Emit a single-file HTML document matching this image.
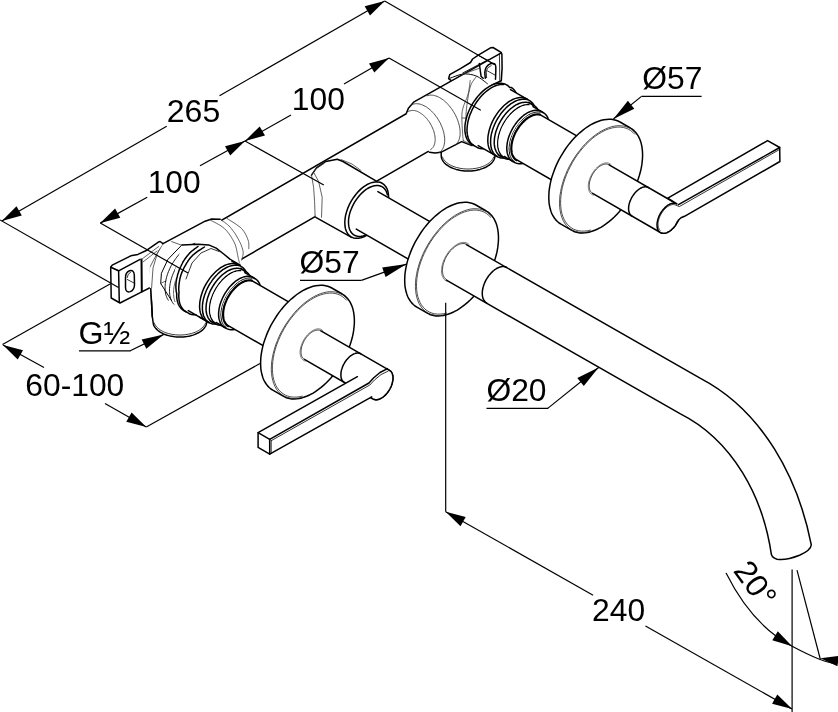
<!DOCTYPE html>
<html><head><meta charset="utf-8"><title>drawing</title>
<style>html,body{margin:0;padding:0;background:#fff}svg{display:block;will-change:transform}text{font-family:"Liberation Sans",sans-serif;fill:#000}</style>
</head><body>
<svg width="838" height="712" viewBox="0 0 838 712">
<rect width="838" height="712" fill="#fff"/>
<path d="M448.6 78.7 L449.7 74.7 L460 68.8 L470.5 62.5 L472.6 59 L478.3 55.1 L490.9 47.7 L493 47.5 L501.1 52.3 L501.9 54.2 L502.1 68.1 L501.3 80.7 L470 95 Z" fill="#fff" stroke="#000" stroke-width="1.5" stroke-linejoin="round" stroke-linecap="round" />
<path d="M162.3 254.5 L161.7 255 L161 255.5 L160.4 256.1 L159.9 256.8 L159.4 257.5 L159 258.4 L158.6 259.3 L158.4 260.2 L158.1 261.2 L158 262.3 L157.9 263.4 L157.8 264.5 L157.9 265.7 L158 266.9 L158.1 268.1 L158.4 269.4 L158.6 270.7 L159 272 L159.4 273.3 L159.9 274.6 L160.4 275.9 L161 277.2 L161.7 278.4 L162.3 279.7 L163.1 280.9 L163.9 282.1 L164.7 283.3 L165.5 284.4 L166.4 285.4 L167.3 286.4 L168.3 287.4 L169.3 288.3 L170.2 289.1 L171.2 289.9 L172.2 290.6 L173.2 291.2 L174.3 291.7 L175.3 292.2 L176.3 292.6 L177.2 292.9 L178.2 293.1 L179.1 293.3 L180.1 293.3 L181 293.3 L181.8 293.1 L182.6 292.9 L183.4 292.7 L184.1 292.3 L487.3 117.3 L487.9 116.8 L488.6 116.3 L489.2 115.7 L489.7 115 L490.2 114.3 L490.6 113.4 L491 112.5 L491.2 111.6 L491.5 110.6 L491.6 109.5 L491.7 108.4 L491.8 107.3 L491.7 106.1 L491.6 104.9 L491.5 103.7 L491.2 102.4 L491 101.1 L490.6 99.8 L490.2 98.5 L489.7 97.2 L489.2 95.9 L488.6 94.6 L487.9 93.4 L487.3 92.1 L486.5 90.9 L485.7 89.7 L484.9 88.5 L484.1 87.4 L483.2 86.4 L482.3 85.4 L481.3 84.4 L480.3 83.5 L479.4 82.7 L478.4 81.9 L477.4 81.2 L476.4 80.6 L475.3 80.1 L474.3 79.6 L473.3 79.2 L472.4 78.9 L471.4 78.7 L470.5 78.5 L469.5 78.5 L468.6 78.5 L467.8 78.7 L467 78.9 L466.2 79.1 L465.5 79.5 Z" fill="#fff" stroke="#000" stroke-width="1.5" stroke-linejoin="round" stroke-linecap="round" />
<path d="M441.2 125.5 L441.2 155.5 L441.3 156.5 L441.4 157.5 L441.7 158.5 L442.1 159.5 L442.6 160.5 L443.2 161.4 L444 162.4 L444.8 163.3 L445.7 164.1 L446.8 165 L447.9 165.7 L449.1 166.5 L450.4 167.2 L451.7 167.8 L453.2 168.4 L454.6 168.9 L456.2 169.4 L457.8 169.8 L459.5 170.2 L461.1 170.5 L462.9 170.7 L464.6 170.9 L466.3 171 L468.1 171 L469.9 171 L471.6 170.9 L473.3 170.7 L475.1 170.5 L476.7 170.2 L478.4 169.8 L480 169.4 L481.5 168.9 L483 168.4 L484.5 167.8 L485.8 167.2 L487.1 166.5 L488.3 165.7 L489.4 165 L490.5 164.1 L491.4 163.3 L492.2 162.4 L493 161.4 L493.6 160.5 L494.1 159.5 L494.5 158.5 L494.8 157.5 L494.9 156.5 L495 155.5 L495 125.5" fill="#fff" stroke="#000" stroke-width="1.5" stroke-linejoin="round" stroke-linecap="round" />
<path d="M442.5 157 L442.8 157.9 L443.3 158.7 L443.8 159.5 L444.4 160.3 L445 161.1 L445.8 161.8 L446.6 162.5 L447.5 163.2 L448.4 163.9 L449.4 164.5 L450.5 165.1 L451.6 165.7 L452.8 166.2 L454 166.7 L455.3 167.1 L456.6 167.5 L458 167.8 L459.4 168.2 L460.8 168.4 L462.2 168.6 L463.7 168.8 L465.1 168.9 L466.6 169 L468.1 169 L469.6 169 L471.1 168.9 L472.5 168.8 L474 168.6 L475.4 168.4 L476.8 168.2 L478.2 167.8 L479.6 167.5 L480.9 167.1 L482.2 166.7 L483.4 166.2 L484.6 165.7 L485.7 165.1 L486.8 164.5 L487.8 163.9 L488.7 163.2 L489.6 162.5 L490.4 161.8 L491.2 161.1 L491.8 160.3 L492.4 159.5 L492.9 158.7 L493.4 157.9 L493.7 157" fill="none" stroke="#000" stroke-width="0.8" stroke-linejoin="round" stroke-linecap="round" />
<path d="M150.8 288.7 L152.3 316.6 L153.3 323.7 L153.5 324.6 L153.9 325.6 L154.4 326.5 L155 327.4 L155.7 328.3 L156.5 329.1 L157.4 330 L158.3 330.8 L159.4 331.5 L160.5 332.3 L161.7 332.9 L163 333.6 L164.3 334.2 L165.7 334.7 L167.2 335.2 L168.7 335.6 L170.2 336 L171.8 336.3 L173.4 336.6 L175.1 336.8 L176.7 336.9 L178.4 337 L180.1 337 L181.8 337 L183.4 336.9 L185.1 336.7 L186.7 336.5 L188.4 336.2 L189.9 335.9 L191.5 335.5 L193 335.1 L194.4 334.6 L195.8 334 L197.1 333.4 L198.4 332.8 L199.6 332.1 L200.7 331.4 L201.7 330.6 L202.7 329.8 L203.5 329 L204.3 328.1 L204.9 327.2 L205.5 326.3 L206 325.3 L206.3 324.4 L206.6 323.4 L206.7 322.5 L206.8 321.5 L206.8 291.5" fill="#fff" stroke="#000" stroke-width="1.5" stroke-linejoin="round" stroke-linecap="round" />
<path d="M154.3 323 L154.6 323.9 L155.1 324.7 L155.6 325.5 L156.2 326.3 L156.8 327.1 L157.6 327.8 L158.4 328.5 L159.3 329.2 L160.2 329.9 L161.2 330.5 L162.3 331.1 L163.4 331.7 L164.6 332.2 L165.8 332.7 L167.1 333.1 L168.4 333.5 L169.8 333.8 L171.2 334.2 L172.6 334.4 L174 334.6 L175.5 334.8 L176.9 334.9 L178.4 335 L179.9 335 L181.4 335 L182.9 334.9 L184.3 334.8 L185.8 334.6 L187.2 334.4 L188.6 334.2 L190 333.8 L191.4 333.5 L192.7 333.1 L194 332.7 L195.2 332.2 L196.4 331.7 L197.5 331.1 L198.6 330.5 L199.6 329.9 L200.5 329.2 L201.4 328.5 L202.2 327.8 L203 327.1 L203.6 326.3 L204.2 325.5 L204.7 324.7 L205.2 323.9 L205.5 323" fill="none" stroke="#000" stroke-width="0.8" stroke-linejoin="round" stroke-linecap="round" />
<path d="M406.5 112.9 L408.6 107.9 L413.6 102.2 L480 64 L505 110 L495.2 155.2 L480.9 148.7 L461.6 141.6 L440.8 152.3 L435.1 153 L429.4 152.3 Z" fill="#fff" stroke="none" stroke-width="0" stroke-linejoin="round" stroke-linecap="round" />
<path d="M406.5 112.9 L408.6 107.9 L413.6 102.2 L501.3 52.9" fill="none" stroke="#000" stroke-width="1.5" stroke-linejoin="round" stroke-linecap="round" />
<path d="M429.4 152.3 L435.1 153 L440.8 152.3 L461.6 141.6 L472 145.6" fill="none" stroke="#000" stroke-width="1.5" stroke-linejoin="round" stroke-linecap="round" />
<path d="M430.6 149.6 L431.3 149.1 L431.9 148.6 L432.5 147.9 L433.1 147.3 L433.6 146.5 L434 145.7 L434.3 144.8 L434.6 143.8 L434.9 142.8 L435 141.7 L435.1 140.6 L435.2 139.5 L435.1 138.3 L435 137.1 L434.9 135.8 L434.6 134.5 L434.3 133.2 L434 131.9 L433.6 130.6 L433.1 129.3 L432.5 128 L431.9 126.7 L431.3 125.4 L430.6 124.1 L429.9 122.9 L429.1 121.7 L428.2 120.6 L427.4 119.4 L426.5 118.4 L425.6 117.3 L424.6 116.4 L423.6 115.5 L422.6 114.6 L421.6 113.9 L420.6 113.2 L419.6 112.5 L418.6 112 L417.6 111.5 L416.6 111.1 L415.6 110.8 L414.6 110.6 L413.6 110.5 L412.7 110.4 L411.8 110.5 L411 110.6 L410.1 110.8 L409.3 111.1 L408.6 111.4" fill="none" stroke="#3a3a3a" stroke-width="0.9" stroke-linejoin="round" stroke-linecap="round" />
<path d="M439 152.6 L439.9 152 L440.7 151.4 L441.4 150.6 L442.1 149.7 L442.7 148.8 L443.2 147.8 L443.7 146.6 L444 145.5 L444.3 144.2 L444.5 142.9 L444.7 141.5 L444.7 140 L444.7 138.5 L444.5 137 L444.3 135.4 L444 133.8 L443.7 132.2 L443.2 130.6 L442.7 128.9 L442.1 127.3 L441.4 125.7 L440.7 124 L439.9 122.4 L439 120.9 L438.1 119.3 L437.1 117.8 L436.1 116.4 L435 115 L433.9 113.6 L432.7 112.4 L431.5 111.1 L430.3 110 L429 109 L427.8 108 L426.5 107.1 L425.2 106.3 L424 105.7 L422.7 105.1 L421.5 104.6 L420.2 104.2 L419 103.9 L417.8 103.8 L416.6 103.7 L415.5 103.7 L414.4 103.9 L413.4 104.2 L412.4 104.5 L411.5 105" fill="none" stroke="#3a3a3a" stroke-width="0.9" stroke-linejoin="round" stroke-linecap="round" />
<path d="M455.4 145 L456.2 144.3 L456.9 143.5 L457.6 142.7 L458.1 141.7 L458.6 140.7 L459.1 139.6 L459.4 138.4 L459.7 137.2 L460 135.9 L460.1 134.6 L460.1 133.2 L460.1 131.7 L460 130.2 L459.9 128.7 L459.6 127.1 L459.3 125.6 L458.9 124 L458.4 122.4 L457.9 120.8 L457.3 119.2 L456.6 117.6 L455.9 116 L455.1 114.4 L454.2 112.9 L453.3 111.4 L452.4 109.9 L451.4 108.5 L450.3 107.1 L449.2 105.8 L448.1 104.5 L447 103.3 L445.8 102.1 L444.6 101.1 L443.4 100.1 L442.1 99.2 L440.9 98.4 L439.6 97.6 L438.4 97 L437.2 96.4 L435.9 96 L434.7 95.6 L433.5 95.3 L432.4 95.2 L431.2 95.1 L430.1 95.1 L429 95.2 L428 95.5 L427 95.8" fill="none" stroke="#3a3a3a" stroke-width="0.9" stroke-linejoin="round" stroke-linecap="round" />
<path d="M449.8 78.3 L450.9 77.9 L452.3 77.4 L454 76.7 L455.9 76 L457.9 75.3 L460 74.7 L461.9 74.3 L463.7 74 L465.4 73.9 L467 74 L468.7 74.1 L470.3 74.4 L472 74.7 L473.5 75.1 L475.1 75.6 L476.6 76.2 L478.1 76.9 L479.7 77.9 L481.3 79 L482.8 80.1 L484.2 81.2 L485.5 82.2 L486.6 83.1 L487.4 83.7" fill="none" stroke="#000" stroke-width="1" stroke-linejoin="round" stroke-linecap="round" />
<path d="M470.2 80.5 L470.1 81.5 L469.9 82.9 L469.7 84.5 L469.5 86.4 L469.2 88.3 L468.9 90.4 L468.5 92.4 L468 94.4 L467.4 96.4 L466.7 98.4 L465.8 100.4 L464.9 102.5 L464.1 104.7 L463.3 106.9 L462.7 109.2 L462.2 111.6 L461.9 114.2 L461.9 117 L461.9 119.9 L462 122.9 L462.1 125.8 L462.3 128.6 L462.5 131 L462.6 133.1 L462.7 134.8 L462.8 136.2 L462.9 137.4 L463.1 138.4 L463.2 139.2 L463.3 139.9 L463.4 140.5 L463.5 141" fill="none" stroke="#3a3a3a" stroke-width="0.8" stroke-linejoin="round" stroke-linecap="round" />
<path d="M476.6 76.2 L476.1 76.9 L475.4 77.8 L474.6 78.9 L473.7 80.1 L472.7 81.5 L471.8 83.1 L470.9 84.9 L470.2 87 L469.6 89.5 L468.9 92.4 L468.3 95.6 L467.8 98.9 L467.3 102.4 L466.8 105.7 L466.5 108.8 L466.2 111.6 L466 114.2 L466 116.7 L466 119.1 L466.1 121.3 L466.2 123.4 L466.3 125.2 L466.4 126.8 L466.5 128" fill="none" stroke="#3a3a3a" stroke-width="0.8" stroke-linejoin="round" stroke-linecap="round" />
<path d="M462 118 L466.3 118" fill="none" stroke="#3a3a3a" stroke-width="0.8" stroke-linejoin="round" stroke-linecap="round" />
<path d="M463 140.5 L470 144 L476 146" fill="none" stroke="#3a3a3a" stroke-width="0.8" stroke-linejoin="round" stroke-linecap="round" />
<path d="M479.3 63.5 L481.1 76.5 L483.2 78.3" fill="none" stroke="#000" stroke-width="1.5" stroke-linejoin="round" stroke-linecap="round" />
<path d="M485.3 78.3 L485.3 77.8 L485.2 77.1 L485.1 76.2 L485 75.3 L484.9 74.3 L484.9 73.3 L484.8 72.4 L484.9 71.6 L485 70.9 L485.2 70.2 L485.3 69.5 L485.6 68.9 L485.8 68.3 L486.1 67.7 L486.4 67.2 L486.7 66.7 L487.1 66.2 L487.5 65.8 L487.9 65.4 L488.3 65 L488.8 64.7 L489.3 64.4 L489.8 64.1 L490.2 63.9 L490.6 63.7 L491.1 63.6 L491.6 63.5 L492.1 63.4 L492.5 63.4 L492.9 63.4 L493.3 63.4 L493.7 63.5 L494 63.6 L494.3 63.7 L494.6 63.9 L494.8 64.1 L495 64.4 L495.2 64.6 L495.4 64.9 L495.5 65.3 L495.6 65.7 L495.7 66 L495.7 66.5 L495.8 66.9 L495.8 67.4 L495.8 68 L495.8 68.7 L495.8 69.5 L495.8 70.5 L495.8 71.8 L495.7 73.2 L495.7 74.7 L495.6 76.1 L495.6 77.4 L495.5 78.5 L495.5 79.3" fill="none" stroke="#000" stroke-width="1.5" stroke-linejoin="round" stroke-linecap="round" />
<path d="M486.6 77.5 L486.6 77 L486.5 76.4 L486.4 75.7 L486.4 74.9 L486.3 74 L486.2 73.2 L486.2 72.5 L486.3 71.8 L486.4 71.2 L486.5 70.7 L486.7 70.2 L486.9 69.7 L487.1 69.2 L487.4 68.8 L487.6 68.4 L487.9 68 L488.2 67.6 L488.6 67.3 L489.1 67 L489.5 66.7 L490 66.4 L490.4 66.2 L490.8 66 L491 65.8" fill="none" stroke="#000" stroke-width="1" stroke-linejoin="round" stroke-linecap="round" />
<path d="M487.4 70.9 L495.1 75.1" fill="none" stroke="#000" stroke-width="0.8" stroke-linejoin="round" stroke-linecap="round" />
<path d="M499.4 53.8 L499.8 80.5" fill="none" stroke="#000" stroke-width="0.8" stroke-linejoin="round" stroke-linecap="round" />
<path d="M488.1 59.7 L462.8 73" fill="none" stroke="#000" stroke-width="0.9" stroke-linejoin="round" stroke-linecap="round" />
<path d="M478.3 55.3 L494.4 64.2" fill="none" stroke="#000" stroke-width="0.9" stroke-linejoin="round" stroke-linecap="round" />
<path d="M462 74.5 L479.5 68.2" fill="none" stroke="#3a3a3a" stroke-width="0.8" stroke-linejoin="round" stroke-linecap="round" />
<path d="M163 243.6 L205.1 221.2 L211.6 219 L220.2 219.3 L243 245 L241.6 260.1 L230 300 L180 310 L150.8 300 L150.8 288.7 L152 262 Z" fill="#fff" stroke="none" stroke-width="0" stroke-linejoin="round" stroke-linecap="round" />
<path d="M163 243.6 L205.1 221.2 L211.6 219 L220.2 219.3" fill="none" stroke="#000" stroke-width="1.5" stroke-linejoin="round" stroke-linecap="round" />
<path d="M220.2 219.3 L221 219.9 L222 220.6 L223.3 221.5 L224.7 222.4 L226.1 223.5 L227.6 224.7 L228.9 225.9 L230.2 227.2 L231.4 228.6 L232.5 230.1 L233.7 231.7 L234.9 233.4 L236 235.1 L237 236.9 L237.9 238.5 L238.8 240.1 L239.6 241.6 L240.3 243.1 L241 244.6 L241.6 246.1 L242.1 247.6 L242.5 249 L242.9 250.3 L243.1 251.6 L243.2 252.9 L243.1 254.1 L242.9 255.4 L242.6 256.6 L242.3 257.7 L242 258.6 L241.8 259.5 L241.6 260.1" fill="none" stroke="#3a3a3a" stroke-width="0.8" stroke-linejoin="round" stroke-linecap="round" />
<path d="M210.1 220 L211.2 220.6 L212.8 221.4 L214.6 222.3 L216.7 223.4 L218.8 224.6 L220.9 225.8 L222.8 227.2 L224.5 228.6 L226 230.1 L227.5 231.8 L228.9 233.6 L230.2 235.4 L231.4 237.4 L232.6 239.3 L233.6 241.2 L234.5 243 L235.3 244.9 L235.9 246.8 L236.4 248.7 L236.8 250.7 L237.2 252.6 L237.5 254.3 L237.8 255.9 L238.1 257.3 L238.4 258.5 L238.6 259.5 L238.8 260.3 L239 261 L239.2 261.7 L239.3 262.2 L239.4 262.6 L239.5 263" fill="none" stroke="#3a3a3a" stroke-width="0.8" stroke-linejoin="round" stroke-linecap="round" />
<path d="M227.3 218.6 L228.5 219.4 L230.1 220.4 L232 221.6 L234 222.9 L236.2 224.3 L238.2 225.8 L240.1 227.2 L241.6 228.6 L242.8 230 L243.9 231.4 L244.9 232.9 L245.7 234.4 L246.4 235.9 L247.1 237.4 L247.6 238.8 L248.1 240.1 L248.5 241.4 L248.7 242.7 L248.8 243.9 L248.9 245.1 L248.8 246.2 L248.8 247.2 L248.8 248.1 L248.8 248.7" fill="none" stroke="#3a3a3a" stroke-width="0.8" stroke-linejoin="round" stroke-linecap="round" />
<path d="M163 243.6 L157.3 253.6 L153 268 L151.6 288" fill="none" stroke="#3a3a3a" stroke-width="0.8" stroke-linejoin="round" stroke-linecap="round" />
<path d="M160.1 247.9 L149.4 268 L147.3 285.1" fill="none" stroke="#3a3a3a" stroke-width="0.8" stroke-linejoin="round" stroke-linecap="round" />
<path d="M171.6 241.6 L180.8 244.9" fill="none" stroke="#3a3a3a" stroke-width="0.8" stroke-linejoin="round" stroke-linecap="round" />
<path d="M181.9 244.9 L167.9 259.4 L161.4 273.3 L160.7 283.5 L171.5 300.5" fill="none" stroke="#000" stroke-width="1" stroke-linejoin="round" stroke-linecap="round" />
<path d="M160.7 283.5 L163.5 282 L166 281" fill="none" stroke="#3a3a3a" stroke-width="0.8" stroke-linejoin="round" stroke-linecap="round" />
<path d="M168.3 300.2 L167.8 299.4 L167.2 298.4 L166.8 297.4 L166.4 296.4 L166 295.3 L165.7 294.2 L165.5 293 L165.3 291.7 L165.1 290.5 L165.1 289.1 L165.1 287.8 L165.1 286.4 L165.2 285 L165.3 283.6 L165.5 282.1 L165.8 280.6 L166.1 279.1 L166.5 277.6 L166.9 276.1 L167.4 274.6 L167.9 273.1 L168.5 271.5 L169.2 270 L169.8 268.5 L170.6 267 L171.3 265.5 L172.1 264.1 L173 262.7 L173.9 261.2 L174.8 259.9 L175.8 258.5 L176.8 257.2 L177.8 255.9 L178.8 254.7 L179.9 253.5 L181 252.4 L182.1 251.3 L183.3 250.3 L184.4 249.3 L185.6 248.4 L186.7 247.5 L187.9 246.7 L189.1 246 L190.3 245.3 L191.4 244.7 L192.6 244.2 L193.8 243.7 L194.9 243.3" fill="none" stroke="#000" stroke-width="0.9" stroke-linejoin="round" stroke-linecap="round" />
<path d="M173.9 304.2 L173.2 303.4 L172.5 302.5 L171.9 301.5 L171.4 300.4 L170.9 299.3 L170.5 298.2 L170.2 296.9 L169.9 295.6 L169.7 294.3 L169.6 292.9 L169.5 291.4 L169.5 290 L169.5 288.4 L169.7 286.9 L169.9 285.3 L170.1 283.7 L170.5 282.1 L170.8 280.4 L171.3 278.8 L171.8 277.1 L172.4 275.5 L173.1 273.8 L173.8 272.2 L174.5 270.5 L175.3 268.9 L176.2 267.3 L177.1 265.7 L178 264.2 L179 262.7 L180.1 261.2 L181.2 259.8 L182.3 258.4 L183.4 257.1 L184.6 255.8 L185.8 254.6 L187 253.4 L188.3 252.3 L189.5 251.3 L190.8 250.3 L192.1 249.4 L193.4 248.6 L194.7 247.9 L195.9 247.2 L197.2 246.7 L198.5 246.2 L199.7 245.8 L201 245.4 L202.2 245.2" fill="none" stroke="#000" stroke-width="0.9" stroke-linejoin="round" stroke-linecap="round" />
<path d="M175 301.7 L174.6 300.7 L174.3 299.6 L174.1 298.4 L173.9 297.2 L173.7 296 L173.6 294.7 L173.5 293.4 L173.5 292.1 L173.6 290.7 L173.7 289.4 L173.9 287.9 L174.1 286.5 L174.4 285.1 L174.7 283.6 L175.1 282.1 L175.5 280.6 L176 279.1 L176.5 277.6 L177.1 276.2 L177.7 274.7 L178.4 273.2 L179.1 271.8 L179.9 270.3 L180.7 268.9 L181.5 267.5 L182.4 266.1 L183.3 264.8 L184.2 263.5 L185.2 262.2 L186.2 260.9 L187.2 259.7 L188.3 258.6 L189.3 257.4 L190.4 256.4 L191.5 255.4 L192.7 254.4 L193.8 253.5 L194.9 252.6 L196.1 251.8 L197.2 251.1 L198.4 250.4 L199.5 249.8 L200.7 249.3 L201.8 248.8 L203 248.4 L204.1 248 L205.2 247.8 L206.3 247.6" fill="none" stroke="#3a3a3a" stroke-width="0.8" stroke-linejoin="round" stroke-linecap="round" />
<path d="M311.5 175.1 L316.5 167.9 L325.8 161.5 L337.3 159.3 L343 161.5 L375.9 180.8 L380 215 L351.6 237.4 L315.8 217.3 L312 190 Z" fill="#fff" stroke="none" stroke-width="0" stroke-linejoin="round" stroke-linecap="round" />
<path d="M311.5 175.1 L316.5 167.9 L325.8 161.5 L337.3 159.3 L343 161.5 L375.9 180.8" fill="none" stroke="#000" stroke-width="1.5" stroke-linejoin="round" stroke-linecap="round" />
<path d="M351.6 237.4 L315.8 217.3" fill="none" stroke="#000" stroke-width="1.5" stroke-linejoin="round" stroke-linecap="round" />
<path d="M311.5 175.1 L313.6 187.3 L314.6 201.6 L315.1 216.6" fill="none" stroke="#3a3a3a" stroke-width="0.8" stroke-linejoin="round" stroke-linecap="round" />
<path d="M314 173 L318.6 181.5 L322.2 197.3 L321.5 217.3" fill="none" stroke="#3a3a3a" stroke-width="0.8" stroke-linejoin="round" stroke-linecap="round" />
<path d="M311.5 175.1 L315 169.5 L324 163.5" fill="none" stroke="#3a3a3a" stroke-width="0.8" stroke-linejoin="round" stroke-linecap="round" />
<path d="M341 159.5 L352 164 L361 170.5" fill="none" stroke="#3a3a3a" stroke-width="0.8" stroke-linejoin="round" stroke-linecap="round" />
<path d="M382.2 183.3 L384.1 184.7 L385.7 186.5 L387 188.7 L387.9 191.3 L388.4 194.2 L388.6 197.4 L388.4 200.9 L387.9 204.4 L387 208.1 L385.7 211.8 L384.1 215.5 L382.2 219 L380.1 222.5 L377.7 225.7 L375.1 228.6 L372.4 231.3 L369.6 233.5 L366.7 235.4 L363.9 236.8 L361 237.8 L358.3 238.3 L355.8 238.3 L353.4 237.9 L351.2 236.9 L349.3 235.5 L347.7 233.7 L346.5 231.5 L345.5 228.9 L345 226 L344.8 222.8 L345 219.3 L345.5 215.8 L346.5 212.1 L347.7 208.4 L349.3 204.7 L351.2 201.2 L353.4 197.7 L355.8 194.5 L358.3 191.6 L361 188.9 L363.9 186.7 L366.7 184.8 L369.6 183.4 L372.4 182.4 L375.1 181.9 L377.7 181.9 L380.1 182.3 L382.2 183.3" fill="#fff" stroke="#000" stroke-width="1.5" stroke-linejoin="round" stroke-linecap="round" />
<path d="M366.5 234.6 L364.7 235.4 L362.9 235.9 L361.2 236.3 L359.5 236.4 L358 236.3 L356.5 236 L355.1 235.5 L353.8 234.8 L352.6 233.9 L351.5 232.8 L350.6 231.5 L349.9 230 L349.3 228.4 L348.9 226.7 L348.6 224.8 L348.5 222.7 L348.5 220.6 L348.7 218.4 L349.1 216.2 L349.6 213.9 L350.3 211.5 L351.2 209.2 L352.2 206.9 L353.3 204.6 L354.5 202.4 L355.9 200.2 L357.4 198.1 L358.9 196.2 L360.6 194.3 L362.3 192.6 L364 191.1 L365.8 189.7 L367.6 188.5 L369.4 187.5 L371.2 186.7 L373 186.1 L374.7 185.7 L376.4 185.5 L378 185.5 L379.5 185.8 L380.9 186.2 L382.3 186.9 L383.5 187.7 L384.5 188.8 L385.5 190 L386.3 191.4 L386.9 193 L387.4 194.7" fill="none" stroke="#000" stroke-width="1.5" stroke-linejoin="round" stroke-linecap="round" />
<path d="M472 144.5 L470.8 143.8 L469.8 142.9 L468.8 141.8 L467.9 140.6 L467.1 139.3 L466.5 137.9 L465.9 136.4 L465.5 134.7 L465.2 133 L464.9 131.1 L464.9 129.2 L464.9 127.2 L465 125.2 L465.3 123.1 L465.7 121 L466.2 118.8 L466.8 116.6 L467.5 114.4 L468.3 112.2 L469.3 110 L470.3 107.9 L471.4 105.7 L472.6 103.7 L473.9 101.6 L475.3 99.7 L476.7 97.8 L478.2 95.9 L479.7 94.2 L481.3 92.6 L482.9 91.1 L484.6 89.7 L486.3 88.4 L488 87.3 L489.7 86.2 L491.4 85.4 L493.1 84.6 L494.7 84 L496.4 83.6 L498 83.3 L499.6 83.2 L501.1 83.2 L502.5 83.4 L503.9 83.7 L505.3 84.2 L506.5 84.8 L507.7 85.5 L508.7 86.4 L509.7 87.5 L511.2 87.5 L512.3 88.2 L513.3 89 L514.2 90 L515.1 91.1 L515.8 92.3 L516.5 93.6 L517 95 L517.5 96.5 L517.9 98 L518.1 99.7 L518.3 101.5 L518.3 103.3 L518.3 105.1 L518.1 107.1 L517.9 109 L517.5 111 L517 113.1 L516.5 115.1 L515.8 117.2 L515.1 119.2 L514.2 121.3 L513.3 123.3 L512.3 125.3 L511.2 127.3 L510 129.2 L508.8 131.1 L507.5 132.9 L506.1 134.7 L504.7 136.4 L503.3 138 L501.8 139.5 L500.2 140.9 L498.7 142.2 L497.1 143.4 L495.5 144.5 L493.9 145.5 L492.3 146.4 L490.7 147.1 L489.2 147.7 L487.6 148.2 L486.1 148.6 L484.6 148.8 L483.1 148.8 L481.7 148.8 L480.4 148.6 L479.1 148.3 L477.8 147.8 L476.7 147.2 Z" fill="#fff" stroke="#000" stroke-width="1.5" stroke-linejoin="round" stroke-linecap="round" />
<path d="M473.6 145.4 L472.6 144.7 L471.7 143.9 L470.9 143 L470.2 142 L469.5 140.9 L468.9 139.7 L468.4 138.5 L467.9 137.1 L467.6 135.7 L467.3 134.2 L467.1 132.7 L467 131.1 L467 129.4 L467.1 127.7 L467.3 126 L467.5 124.2 L467.8 122.4 L468.2 120.5 L468.7 118.7 L469.3 116.8 L469.9 114.9 L470.7 113.1 L471.5 111.2 L472.3 109.4 L473.3 107.6 L474.3 105.8 L475.3 104 L476.4 102.3 L477.6 100.7 L478.8 99.1 L480.1 97.5 L481.4 96 L482.7 94.6 L484.1 93.3 L485.5 92 L486.9 90.9 L488.3 89.8 L489.7 88.8 L491.2 87.9 L492.6 87.1 L494.1 86.4 L495.5 85.8 L496.9 85.3 L498.3 84.9 L499.7 84.6 L501 84.5 L502.3 84.4 L503.6 84.5" fill="none" stroke="#000" stroke-width="1.5" stroke-linejoin="round" stroke-linecap="round" />
<path d="M478.2 145.6 L477.2 144.9 L476.2 144.1 L475.4 143.2 L474.6 142.2 L473.9 141.1 L473.3 139.9 L472.7 138.6 L472.3 137.2 L472 135.7 L471.7 134.1 L471.6 132.5 L471.5 130.8 L471.6 129 L471.7 127.2 L472 125.4 L472.3 123.5 L472.7 121.6 L473.3 119.7 L473.9 117.8 L474.6 115.8 L475.4 113.9 L476.2 112 L477.2 110.1 L478.2 108.3 L479.3 106.5 L480.5 104.7 L481.7 103 L482.9 101.4 L484.3 99.8 L485.6 98.3 L487 96.9 L488.4 95.5 L489.9 94.3 L491.4 93.2 L492.9 92.1 L494.4 91.2 L495.9 90.4 L497.3 89.7 L498.8 89.2 L500.3 88.7 L501.7 88.4 L503.1 88.2 L504.5 88.1 L505.8 88.2 L507.1 88.3 L508.3 88.6 L509.4 89.1 L510.5 89.6 L529.6 100.6 L530.6 101.3 L531.5 102.1 L532.4 103 L533.2 104 L533.9 105.1 L534.5 106.3 L535 107.6 L535.5 109 L535.8 110.5 L536.1 112.1 L536.2 113.7 L536.3 115.4 L536.2 117.2 L536.1 119 L535.8 120.8 L535.5 122.7 L535 124.6 L534.5 126.5 L533.9 128.4 L533.2 130.4 L532.4 132.3 L531.5 134.2 L530.6 136.1 L529.6 137.9 L528.5 139.7 L527.3 141.5 L526.1 143.2 L524.8 144.8 L523.5 146.4 L522.2 147.9 L520.8 149.3 L519.3 150.7 L517.9 151.9 L516.4 153 L514.9 154.1 L513.4 155 L511.9 155.8 L510.4 156.5 L509 157 L507.5 157.5 L506.1 157.8 L504.7 158 L503.3 158.1 L502 158 L500.7 157.9 L499.5 157.6 L498.4 157.1 L497.3 156.6 Z" fill="#fff" stroke="none" stroke-width="0" stroke-linejoin="round" stroke-linecap="round" />
<path d="M510.5 89.6 L529.6 100.6 L530.6 101.3 L531.5 102.1 L532.4 103 L533.2 104 L533.9 105.1 L534.5 106.3 L535 107.6 L535.5 109 L535.8 110.5 L536.1 112.1 L536.2 113.7 L536.3 115.4 L536.2 117.2 L536.1 119 L535.8 120.8 L535.5 122.7 L535 124.6 L534.5 126.5 L533.9 128.4 L533.2 130.4 L532.4 132.3 L531.5 134.2 L530.6 136.1 L529.6 137.9 L528.5 139.7 L527.3 141.5 L526.1 143.2 L524.8 144.8 L523.5 146.4 L522.2 147.9 L520.8 149.3 L519.3 150.7 L517.9 151.9 L516.4 153 L514.9 154.1 L513.4 155 L511.9 155.8 L510.4 156.5 L509 157 L507.5 157.5 L506.1 157.8 L504.7 158 L503.3 158.1 L502 158 L500.7 157.9 L499.5 157.6 L498.4 157.1 L497.3 156.6 L478.2 145.6" fill="none" stroke="#000" stroke-width="1.5" stroke-linejoin="round" stroke-linecap="round" />
<path d="M494.5 155 L493.5 154.3 L492.5 153.5 L491.6 152.6 L490.8 151.6 L490.1 150.4 L489.5 149.2 L489 147.9 L488.5 146.4 L488.2 144.9 L488 143.3 L487.8 141.7 L487.8 140 L487.9 138.2 L488 136.3 L488.3 134.5 L488.7 132.6 L489.1 130.6 L489.7 128.7 L490.3 126.8 L491 124.8 L491.8 122.9 L492.7 120.9 L493.7 119 L494.8 117.2 L495.9 115.4 L497.1 113.6 L498.3 111.9 L499.6 110.3 L501 108.7 L502.4 107.2 L503.8 105.8 L505.2 104.5 L506.7 103.3 L508.2 102.2 L509.7 101.2 L511.2 100.3 L512.7 99.5 L514.2 98.9 L515.7 98.4 L517.2 98 L518.6 97.7 L520 97.5 L521.4 97.5 L522.7 97.6 L523.9 97.9 L525.1 98.3 L526.3 98.7 L527.3 99.4" fill="none" stroke="#000" stroke-width="1.5" stroke-linejoin="round" stroke-linecap="round" />
<path d="M497.3 156.6 L496.3 155.9 L495.4 155.2 L494.5 154.3 L493.8 153.4 L493.1 152.3 L492.5 151.2 L491.9 150 L491.5 148.7 L491.1 147.3 L490.9 145.8 L490.7 144.3 L490.6 142.7 L490.6 141.1 L490.7 139.4 L490.8 137.6 L491.1 135.8 L491.4 134 L491.9 132.2 L492.4 130.4 L493 128.5 L493.7 126.7 L494.4 124.9 L495.3 123 L496.2 121.2 L497.1 119.5 L498.2 117.7 L499.3 116.1 L500.4 114.4 L501.6 112.8 L502.9 111.3 L504.2 109.8 L505.5 108.5 L506.8 107.1 L508.2 105.9 L509.6 104.8 L511 103.7 L512.5 102.8 L513.9 102 L515.3 101.2 L516.7 100.6 L518.1 100.1 L519.5 99.7 L520.9 99.4 L522.2 99.2 L523.5 99.1 L524.8 99.2 L526 99.3 L527.2 99.6" fill="none" stroke="#000" stroke-width="1.5" stroke-linejoin="round" stroke-linecap="round" />
<path d="M498.3 154.8 L497.3 154.2 L496.4 153.5 L495.6 152.6 L494.9 151.7 L494.2 150.6 L493.6 149.5 L493.1 148.3 L492.7 147 L492.4 145.6 L492.2 144.1 L492 142.6 L492 141 L492 139.3 L492.2 137.6 L492.4 135.9 L492.7 134.1 L493.1 132.4 L493.6 130.6 L494.2 128.8 L494.9 126.9 L495.6 125.1 L496.4 123.4 L497.3 121.6 L498.3 119.9 L499.3 118.2 L500.4 116.5 L501.5 114.9 L502.7 113.4 L503.9 111.9 L505.2 110.5 L506.5 109.1 L507.9 107.9 L509.2 106.7 L510.6 105.7 L512 104.7 L513.4 103.9 L514.8 103.1 L516.2 102.5 L517.6 101.9 L519 101.5 L520.3 101.2 L521.6 101 L522.9 100.9 L524.1 101 L525.3 101.2 L526.5 101.4 L527.5 101.8 L528.6 102.4 L533.8 105.4 L534.7 106 L535.6 106.7 L536.4 107.6 L537.2 108.5 L537.8 109.6 L538.4 110.7 L538.9 111.9 L539.3 113.2 L539.6 114.6 L539.9 116.1 L540 117.6 L540 119.2 L540 120.9 L539.9 122.6 L539.6 124.3 L539.3 126.1 L538.9 127.8 L538.4 129.6 L537.8 131.4 L537.2 133.3 L536.4 135.1 L535.6 136.8 L534.7 138.6 L533.8 140.3 L532.7 142 L531.7 143.7 L530.5 145.3 L529.3 146.8 L528.1 148.3 L526.8 149.7 L525.5 151.1 L524.2 152.3 L522.8 153.5 L521.4 154.5 L520 155.5 L518.6 156.3 L517.2 157.1 L515.8 157.7 L514.4 158.3 L513.1 158.7 L511.7 159 L510.4 159.2 L509.1 159.3 L507.9 159.2 L506.7 159 L505.6 158.8 L504.5 158.4 L503.5 157.8 Z" fill="#fff" stroke="none" stroke-width="0" stroke-linejoin="round" stroke-linecap="round" />
<path d="M528.6 102.4 L533.8 105.4 L534.7 106 L535.6 106.7 L536.4 107.6 L537.2 108.5 L537.8 109.6 L538.4 110.7 L538.9 111.9 L539.3 113.2 L539.6 114.6 L539.9 116.1 L540 117.6 L540 119.2 L540 120.9 L539.9 122.6 L539.6 124.3 L539.3 126.1 L538.9 127.8 L538.4 129.6 L537.8 131.4 L537.2 133.3 L536.4 135.1 L535.6 136.8 L534.7 138.6 L533.8 140.3 L532.7 142 L531.7 143.7 L530.5 145.3 L529.3 146.8 L528.1 148.3 L526.8 149.7 L525.5 151.1 L524.2 152.3 L522.8 153.5 L521.4 154.5 L520 155.5 L518.6 156.3 L517.2 157.1 L515.8 157.7 L514.4 158.3 L513.1 158.7 L511.7 159 L510.4 159.2 L509.1 159.3 L507.9 159.2 L506.7 159 L505.6 158.8 L504.5 158.4 L503.5 157.8 L498.3 154.8" fill="none" stroke="#000" stroke-width="1.5" stroke-linejoin="round" stroke-linecap="round" />
<path d="M500.5 156.1 L499.5 155.5 L498.6 154.7 L497.7 153.7 L496.9 152.7 L496.2 151.6 L495.7 150.3 L495.2 149 L494.8 147.5 L494.5 146 L494.3 144.4 L494.2 142.7 L494.3 141 L494.4 139.2 L494.6 137.3 L495 135.4 L495.4 133.5 L495.9 131.6 L496.6 129.7 L497.3 127.8 L498.1 125.8 L499 123.9 L500 122.1 L501.1 120.2 L502.2 118.5 L503.4 116.7 L504.6 115.1 L505.9 113.5 L507.3 112 L508.7 110.5 L510.1 109.2 L511.6 108 L513.1 106.9 L514.5 105.8 L516 104.9 L517.5 104.2 L519 103.5 L520.5 103 L521.9 102.6 L523.3 102.4 L524.7 102.3 L526.1 102.3 L527.3 102.4 L528.6 102.7 L529.7 103.1 L530.8 103.7 L531.8 104.3 L532.8 105.1 L533.6 106.1" fill="none" stroke="#000" stroke-width="1.5" stroke-linejoin="round" stroke-linecap="round" />
<path d="M503.9 157.1 L503 156.6 L502.2 155.9 L501.5 155.2 L500.8 154.4 L500.2 153.5 L499.6 152.5 L499.1 151.5 L498.7 150.3 L498.4 149.1 L498.1 147.9 L497.9 146.6 L497.8 145.2 L497.8 143.8 L497.8 142.3 L497.9 140.8 L498.1 139.3 L498.3 137.7 L498.6 136.1 L499 134.5 L499.5 132.9 L500.1 131.3 L500.7 129.7 L501.3 128.1 L502.1 126.5 L502.9 124.9 L503.7 123.4 L504.6 121.8 L505.6 120.4 L506.6 118.9 L507.6 117.5 L508.7 116.2 L509.8 114.9 L510.9 113.6 L512.1 112.5 L513.3 111.4 L514.5 110.3 L515.8 109.4 L517 108.5 L518.3 107.7 L519.5 107 L520.8 106.4 L522 105.9 L523.2 105.4 L524.4 105.1 L525.6 104.9 L526.8 104.7 L527.9 104.7 L529 104.7" fill="none" stroke="#000" stroke-width="1.5" stroke-linejoin="round" stroke-linecap="round" />
<path d="M504.3 156.5 L503.4 155.9 L502.5 155.2 L501.7 154.4 L501 153.5 L500.4 152.5 L499.9 151.4 L499.4 150.2 L499 149 L498.7 147.7 L498.5 146.3 L498.4 144.8 L498.3 143.3 L498.4 141.8 L498.5 140.2 L498.7 138.5 L499 136.9 L499.4 135.2 L499.9 133.5 L500.4 131.7 L501 130 L501.7 128.3 L502.5 126.6 L503.4 125 L504.3 123.3 L505.2 121.7 L506.3 120.1 L507.3 118.6 L508.5 117.2 L509.6 115.8 L510.8 114.4 L512.1 113.2 L513.4 112 L514.7 110.9 L516 109.9 L517.3 109 L518.6 108.2 L519.9 107.5 L521.3 106.8 L522.6 106.3 L523.9 105.9 L525.1 105.6 L526.4 105.5 L527.6 105.4 L528.8 105.4 L529.9 105.6 L531 105.9 L532 106.3 L533 106.7 L543.4 112.7 L544.3 113.3 L545.1 114 L545.9 114.8 L546.6 115.7 L547.2 116.7 L547.8 117.8 L548.2 119 L548.6 120.2 L548.9 121.5 L549.1 122.9 L549.3 124.4 L549.3 125.9 L549.3 127.4 L549.1 129 L548.9 130.7 L548.6 132.3 L548.2 134 L547.8 135.7 L547.2 137.5 L546.6 139.2 L545.9 140.9 L545.1 142.6 L544.3 144.2 L543.4 145.9 L542.4 147.5 L541.4 149.1 L540.3 150.6 L539.1 152 L538 153.4 L536.8 154.8 L535.5 156 L534.3 157.2 L533 158.3 L531.7 159.3 L530.3 160.2 L529 161 L527.7 161.7 L526.4 162.4 L525 162.9 L523.7 163.3 L522.5 163.6 L521.2 163.7 L520 163.8 L518.9 163.8 L517.7 163.6 L516.6 163.3 L515.6 162.9 L514.7 162.5 Z" fill="#fff" stroke="none" stroke-width="0" stroke-linejoin="round" stroke-linecap="round" />
<path d="M533 106.7 L543.4 112.7 L544.3 113.3 L545.1 114 L545.9 114.8 L546.6 115.7 L547.2 116.7 L547.8 117.8 L548.2 119 L548.6 120.2 L548.9 121.5 L549.1 122.9 L549.3 124.4 L549.3 125.9 L549.3 127.4 L549.1 129 L548.9 130.7 L548.6 132.3 L548.2 134 L547.8 135.7 L547.2 137.5 L546.6 139.2 L545.9 140.9 L545.1 142.6 L544.3 144.2 L543.4 145.9 L542.4 147.5 L541.4 149.1 L540.3 150.6 L539.1 152 L538 153.4 L536.8 154.8 L535.5 156 L534.3 157.2 L533 158.3 L531.7 159.3 L530.3 160.2 L529 161 L527.7 161.7 L526.4 162.4 L525 162.9 L523.7 163.3 L522.5 163.6 L521.2 163.7 L520 163.8 L518.9 163.8 L517.7 163.6 L516.6 163.3 L515.6 162.9 L514.7 162.5 L504.3 156.5" fill="none" stroke="#000" stroke-width="1.5" stroke-linejoin="round" stroke-linecap="round" />
<path d="M512.7 161.4 L511.8 160.7 L510.9 160 L510.1 159.2 L509.4 158.2 L508.8 157.2 L508.2 156.1 L507.8 154.8 L507.4 153.5 L507.1 152.2 L506.9 150.7 L506.8 149.2 L506.8 147.6 L506.9 146 L507.1 144.3 L507.3 142.6 L507.7 140.9 L508.1 139.1 L508.7 137.3 L509.3 135.6 L510 133.8 L510.8 132 L511.6 130.3 L512.5 128.6 L513.5 126.9 L514.6 125.3 L515.7 123.7 L516.8 122.2 L518 120.8 L519.3 119.4 L520.6 118.1 L521.9 116.9 L523.2 115.7 L524.6 114.7 L525.9 113.8 L527.3 112.9 L528.7 112.2 L530.1 111.6 L531.4 111.1 L532.7 110.7 L534 110.5 L535.3 110.3 L536.5 110.3 L537.7 110.4 L538.9 110.6 L540 111 L541 111.4 L542 112 L542.9 112.6" fill="none" stroke="#000" stroke-width="1.5" stroke-linejoin="round" stroke-linecap="round" />
<path d="M514.2 161.3 L513.4 160.7 L512.7 160 L512 159.3 L511.4 158.4 L510.9 157.5 L510.4 156.5 L510 155.4 L509.7 154.2 L509.5 153 L509.3 151.8 L509.2 150.4 L509.1 149.1 L509.1 147.7 L509.3 146.2 L509.4 144.8 L509.7 143.3 L510 141.7 L510.4 140.2 L510.8 138.6 L511.4 137.1 L512 135.5 L512.6 134 L513.3 132.5 L514.1 131 L514.9 129.5 L515.8 128 L516.7 126.6 L517.7 125.2 L518.7 123.9 L519.7 122.6 L520.8 121.4 L521.9 120.2 L523.1 119.1 L524.2 118 L525.4 117.1 L526.6 116.2 L527.8 115.4 L529 114.6 L530.2 114 L531.4 113.4 L532.6 113 L533.7 112.6 L534.9 112.3 L536 112.1 L537.1 112 L538.2 112 L539.3 112.1 L540.3 112.3" fill="none" stroke="#000" stroke-width="1" stroke-linejoin="round" stroke-linecap="round" />
<path d="M515.1 158.8 L514.3 158.2 L513.5 157.6 L512.8 156.9 L512.2 156.1 L511.7 155.3 L511.2 154.3 L510.8 153.3 L510.4 152.2 L510.2 151 L510 149.8 L509.9 148.5 L509.8 147.2 L509.9 145.8 L510 144.4 L510.2 143 L510.4 141.5 L510.8 140 L511.2 138.5 L511.7 137 L512.2 135.5 L512.8 134 L513.5 132.5 L514.3 131 L515.1 129.5 L515.9 128.1 L516.8 126.7 L517.8 125.4 L518.8 124.1 L519.8 122.9 L520.9 121.7 L522 120.6 L523.1 119.6 L524.2 118.6 L525.4 117.7 L526.5 116.9 L527.7 116.2 L528.9 115.6 L530 115 L531.2 114.6 L532.3 114.2 L533.5 114 L534.5 113.8 L535.6 113.8 L536.6 113.8 L537.6 113.9 L538.6 114.2 L539.5 114.5 L540.4 114.9 L603.1 151.2 L603.9 151.7 L604.7 152.3 L605.4 153 L606 153.8 L606.5 154.7 L607 155.7 L607.4 156.7 L607.8 157.8 L608 158.9 L608.2 160.2 L608.3 161.4 L608.4 162.8 L608.3 164.1 L608.2 165.6 L608 167 L607.8 168.5 L607.4 170 L607 171.5 L606.5 173 L606 174.5 L605.4 176 L604.7 177.5 L603.9 179 L603.1 180.4 L602.3 181.8 L601.4 183.2 L600.4 184.5 L599.4 185.8 L598.4 187.1 L597.3 188.2 L596.2 189.3 L595.1 190.4 L594 191.3 L592.8 192.2 L591.7 193 L590.5 193.8 L589.3 194.4 L588.2 194.9 L587 195.4 L585.9 195.7 L584.7 196 L583.6 196.1 L582.6 196.2 L581.5 196.2 L580.6 196 L579.6 195.8 L578.7 195.4 L577.8 195 Z" fill="#fff" stroke="none" stroke-width="0" stroke-linejoin="round" stroke-linecap="round" />
<path d="M540.4 114.9 L603.1 151.2 L603.9 151.7 L604.7 152.3 L605.4 153 L606 153.8 L606.5 154.7 L607 155.7 L607.4 156.7 L607.8 157.8 L608 158.9 L608.2 160.2 L608.3 161.4 L608.4 162.8 L608.3 164.1 L608.2 165.6 L608 167 L607.8 168.5 L607.4 170 L607 171.5 L606.5 173 L606 174.5 L605.4 176 L604.7 177.5 L603.9 179 L603.1 180.4 L602.3 181.8 L601.4 183.2 L600.4 184.5 L599.4 185.8 L598.4 187.1 L597.3 188.2 L596.2 189.3 L595.1 190.4 L594 191.3 L592.8 192.2 L591.7 193 L590.5 193.8 L589.3 194.4 L588.2 194.9 L587 195.4 L585.9 195.7 L584.7 196 L583.6 196.1 L582.6 196.2 L581.5 196.2 L580.6 196 L579.6 195.8 L578.7 195.4 L577.8 195 L515.1 158.8" fill="none" stroke="#000" stroke-width="1.5" stroke-linejoin="round" stroke-linecap="round" />
<path d="M516.4 160.1 L515.6 159.6 L514.9 159 L514.3 158.3 L513.7 157.5 L513.2 156.7 L512.7 155.8 L512.3 154.8 L512 153.8 L511.7 152.7 L511.5 151.5 L511.4 150.3 L511.3 149.1 L511.3 147.8 L511.4 146.4 L511.5 145.1 L511.7 143.7 L512 142.3 L512.3 140.8 L512.7 139.4 L513.2 138 L513.7 136.5 L514.3 135.1 L514.9 133.6 L515.6 132.2 L516.4 130.8 L517.2 129.5 L518.1 128.1 L518.9 126.8 L519.9 125.6 L520.9 124.4 L521.9 123.2 L522.9 122.1 L523.9 121.1 L525 120.1 L526.1 119.2 L527.2 118.3 L528.3 117.6 L529.5 116.9 L530.6 116.3 L531.7 115.7 L532.8 115.3 L533.9 114.9 L535 114.6 L536 114.5 L537.1 114.4 L538.1 114.4 L539 114.4 L540 114.6" fill="none" stroke="#000" stroke-width="2.2" stroke-linejoin="round" stroke-linecap="round" />
<path d="M181.9 244.9 L198 244.3 L208.7 244.9 L216.2 248.1 L223.7 254 L230.2 259.4 L240.2 265.2 L236 290 L200 312 L176 295 L175 270 Z" fill="#fff" stroke="none" stroke-width="0" stroke-linejoin="round" stroke-linecap="round" />
<path d="M198 246.5 L197.4 246.9 L196.6 247.5 L195.7 248.2 L194.6 248.9 L193.5 249.8 L192.4 250.6 L191.3 251.5 L190.4 252.4 L189.5 253.3 L188.7 254.2 L187.8 255.2 L187 256.2 L186.2 257.2 L185.5 258.2 L184.7 259.3 L184 260.4 L183.3 261.5 L182.6 262.7 L182 264 L181.4 265.2 L180.8 266.5 L180.2 267.7 L179.7 268.9 L179.2 270.1 L178.8 271.2 L178.4 272.4 L178 273.5 L177.7 274.6 L177.4 275.7 L177.2 276.7 L176.9 277.7 L176.7 278.7 L176.5 279.6 L176.4 280.5 L176.2 281.3 L176.1 282.1 L176 282.9 L176 283.6 L175.9 284.4 L175.9 285.2 L175.9 286 L175.9 287 L175.9 287.9 L176 288.8 L176.1 289.7 L176.1 290.5 L176.2 291.1 L176.2 291.6 L176.7 293.2 L176.7 293.7 L176.7 294.2 L176.7 294.7 L176.7 295.2 L176.7 295.7 L176.7 296.2 L176.7 296.7 L176.7 297.1 L176.8 297.6 L176.8 298.1 L176.9 298.5 L177 299 L177 299.4 L177.1 299.9 L177.2 300.3 L177.3 300.7 L177.4 301.1 L177.5 301.5 L177.6 302 L177.7 302.4 L177.9 302.7 L178 303.1 L178.1 303.5 L178.3 303.9 L178.4 304.3 L178.6 304.6 L178.8 305 L178.9 305.3 L179.1 305.7 L179.3 306 L179.5 306.3 L179.7 306.6 L179.9 306.9 L180.1 307.2 L180.4 307.5 L180.6 307.8 L180.8 308.1 L181.1 308.3 L181.3 308.6 L181.6 308.9 L181.8 309.1 L182.1 309.3 L182.4 309.5 L182.6 309.8 L182.9 310 L183.2 310.2 L183.5 310.3 L183.8 310.5" fill="none" stroke="#000" stroke-width="1.5" stroke-linejoin="round" stroke-linecap="round" />
<path d="M204.4 247 L203.8 247.4 L203 247.9 L202.1 248.4 L201.1 249.1 L200 249.8 L198.9 250.5 L197.8 251.2 L196.9 251.9 L196 252.6 L195.2 253.2 L194.4 253.9 L193.5 254.6 L192.7 255.3 L192 256.1 L191.2 256.9 L190.4 257.8 L189.6 258.8 L188.8 259.9 L188 261 L187.3 262.2 L186.5 263.4 L185.8 264.6 L185.1 265.8 L184.5 266.9 L183.9 268 L183.4 269.1 L182.9 270.2 L182.4 271.3 L181.9 272.4 L181.5 273.4 L181.1 274.5 L180.8 275.5 L180.5 276.5 L180.2 277.5 L180 278.4 L179.8 279.4 L179.6 280.3 L179.5 281.2 L179.3 282.1 L179.2 283 L179.1 283.9 L179 284.8 L178.9 285.8 L178.8 286.7 L178.8 287.5 L178.8 288.3 L178.7 288.9 L178.7 289.4 L179 292.4 L179 293 L178.9 293.6 L178.9 294.1 L178.8 294.7 L178.8 295.2 L178.8 295.7 L178.8 296.3 L178.8 296.8 L178.8 297.3 L178.9 297.8 L178.9 298.3 L179 298.9 L179 299.4 L179.1 299.8 L179.1 300.3 L179.2 300.8 L179.3 301.3 L179.4 301.7 L179.5 302.2 L179.6 302.7 L179.7 303.1 L179.9 303.5 L180 304 L180.2 304.4 L180.3 304.8 L180.5 305.2 L180.6 305.6 L180.8 306 L181 306.4 L181.2 306.7 L181.4 307.1 L181.6 307.5 L181.8 307.8 L182.1 308.1 L182.3 308.5 L182.5 308.8 L182.8 309.1 L183 309.4 L183.3 309.7 L183.6 309.9 L183.8 310.2 L184.1 310.5 L184.4 310.7 L184.7 310.9 L185 311.2 L185.3 311.4 L185.6 311.6 L186 311.8" fill="none" stroke="#000" stroke-width="1.5" stroke-linejoin="round" stroke-linecap="round" />
<path d="M186 279 L192 263 L201 253 L211 248.5 L219 251.5" fill="none" stroke="#000" stroke-width="0.8" stroke-linejoin="round" stroke-linecap="round" />
<path d="M219.7 298.3 L219.1 299.1 L218.5 299.9 L217.9 300.7 L217.3 301.5 L216.7 302.2 L216 302.9 L215.4 303.6 L214.7 304.3 L214.1 305 L213.4 305.7 L212.7 306.3 L212 306.9 L211.4 307.5 L210.7 308.1 L210 308.6 L209.3 309.2 L208.6 309.7 L207.9 310.2 L207.1 310.7 L206.4 311.1 L205.7 311.5 L205 311.9 L204.3 312.3 L203.6 312.6 L202.9 313 L202.2 313.3 L201.5 313.5 L200.8 313.8 L200.1 314 L199.4 314.2 L198.7 314.4 L198.1 314.5 L197.4 314.6 L196.7 314.7 L196.1 314.8 L195.4 314.8 L194.8 314.8 L194.2 314.8 L193.5 314.8 L192.9 314.7 L192.3 314.6 L191.7 314.5 L191.2 314.4 L190.6 314.2 L190 314 L189.5 313.8 L189 313.5 L188.5 313.2 L183.8 310.5" fill="none" stroke="#000" stroke-width="1.5" stroke-linejoin="round" stroke-linecap="round" />
<path d="M181.9 244.9 L198 244.3 L208.7 244.9 L216.2 248.1 L223.7 254 L230.2 259.4 L240.2 265.2" fill="none" stroke="#000" stroke-width="1.5" stroke-linejoin="round" stroke-linecap="round" />
<path d="M199.5 317.1 L198.5 316.4 L197.6 315.6 L196.7 314.7 L195.9 313.7 L195.2 312.6 L194.6 311.4 L194.1 310.1 L193.6 308.7 L193.3 307.2 L193 305.6 L192.9 304 L192.8 302.3 L192.9 300.5 L193 298.7 L193.3 296.9 L193.6 295 L194.1 293.1 L194.6 291.2 L195.2 289.3 L195.9 287.3 L196.7 285.4 L197.6 283.5 L198.5 281.6 L199.5 279.8 L200.6 278 L201.8 276.2 L203 274.5 L204.3 272.9 L205.6 271.3 L206.9 269.8 L208.3 268.4 L209.8 267 L211.2 265.8 L212.7 264.7 L214.2 263.6 L215.7 262.7 L217.2 261.9 L218.7 261.2 L220.1 260.7 L221.6 260.2 L223 259.9 L224.4 259.7 L225.8 259.6 L227.1 259.7 L228.4 259.8 L229.6 260.1 L230.7 260.6 L231.8 261.1 L241.4 266.6 L242.4 267.3 L243.3 268.1 L244.2 269 L245 270 L245.7 271.1 L246.3 272.3 L246.8 273.6 L247.3 275 L247.6 276.5 L247.9 278.1 L248 279.7 L248.1 281.4 L248 283.2 L247.9 285 L247.6 286.8 L247.3 288.7 L246.8 290.6 L246.3 292.5 L245.7 294.4 L245 296.4 L244.2 298.3 L243.3 300.2 L242.4 302.1 L241.4 303.9 L240.3 305.7 L239.1 307.5 L237.9 309.2 L236.6 310.8 L235.3 312.4 L234 313.9 L232.6 315.3 L231.1 316.7 L229.7 317.9 L228.2 319 L226.7 320.1 L225.2 321 L223.7 321.8 L222.2 322.5 L220.8 323 L219.3 323.5 L217.9 323.8 L216.5 324 L215.1 324.1 L213.8 324 L212.5 323.9 L211.3 323.6 L210.2 323.1 L209.1 322.6 Z" fill="#fff" stroke="none" stroke-width="0" stroke-linejoin="round" stroke-linecap="round" />
<path d="M231.8 261.1 L241.4 266.6 L242.4 267.3 L243.3 268.1 L244.2 269 L245 270 L245.7 271.1 L246.3 272.3 L246.8 273.6 L247.3 275 L247.6 276.5 L247.9 278.1 L248 279.7 L248.1 281.4 L248 283.2 L247.9 285 L247.6 286.8 L247.3 288.7 L246.8 290.6 L246.3 292.5 L245.7 294.4 L245 296.4 L244.2 298.3 L243.3 300.2 L242.4 302.1 L241.4 303.9 L240.3 305.7 L239.1 307.5 L237.9 309.2 L236.6 310.8 L235.3 312.4 L234 313.9 L232.6 315.3 L231.1 316.7 L229.7 317.9 L228.2 319 L226.7 320.1 L225.2 321 L223.7 321.8 L222.2 322.5 L220.8 323 L219.3 323.5 L217.9 323.8 L216.5 324 L215.1 324.1 L213.8 324 L212.5 323.9 L211.3 323.6 L210.2 323.1 L209.1 322.6 L199.5 317.1" fill="none" stroke="#000" stroke-width="1.5" stroke-linejoin="round" stroke-linecap="round" />
<path d="M188.3 310.6 L209.1 322.6" fill="none" stroke="#000" stroke-width="1.5" stroke-linejoin="round" stroke-linecap="round" />
<path d="M206.3 321 L205.3 320.3 L204.3 319.5 L203.4 318.6 L202.6 317.6 L201.9 316.4 L201.3 315.2 L200.8 313.9 L200.3 312.4 L200 310.9 L199.8 309.3 L199.6 307.7 L199.6 306 L199.7 304.2 L199.8 302.3 L200.1 300.5 L200.5 298.6 L200.9 296.6 L201.5 294.7 L202.1 292.8 L202.8 290.8 L203.6 288.9 L204.5 286.9 L205.5 285 L206.6 283.2 L207.7 281.4 L208.9 279.6 L210.1 277.9 L211.4 276.3 L212.8 274.7 L214.2 273.2 L215.6 271.8 L217 270.5 L218.5 269.3 L220 268.2 L221.5 267.2 L223 266.3 L224.5 265.5 L226 264.9 L227.5 264.4 L229 264 L230.4 263.7 L231.8 263.5 L233.2 263.5 L234.5 263.6 L235.7 263.9 L236.9 264.3 L238.1 264.7 L239.1 265.4" fill="none" stroke="#000" stroke-width="1.5" stroke-linejoin="round" stroke-linecap="round" />
<path d="M209.1 322.6 L208.1 321.9 L207.2 321.2 L206.3 320.3 L205.6 319.4 L204.9 318.3 L204.3 317.2 L203.7 316 L203.3 314.7 L202.9 313.3 L202.7 311.8 L202.5 310.3 L202.4 308.7 L202.4 307.1 L202.5 305.4 L202.6 303.6 L202.9 301.8 L203.2 300 L203.7 298.2 L204.2 296.4 L204.8 294.5 L205.5 292.7 L206.2 290.9 L207.1 289 L208 287.2 L208.9 285.5 L210 283.7 L211.1 282.1 L212.2 280.4 L213.4 278.8 L214.7 277.3 L216 275.8 L217.3 274.5 L218.6 273.1 L220 271.9 L221.4 270.8 L222.8 269.7 L224.3 268.8 L225.7 268 L227.1 267.2 L228.5 266.6 L229.9 266.1 L231.3 265.7 L232.7 265.4 L234 265.2 L235.3 265.1 L236.6 265.2 L237.8 265.3 L239 265.6" fill="none" stroke="#000" stroke-width="1.5" stroke-linejoin="round" stroke-linecap="round" />
<path d="M210.1 320.8 L209.1 320.2 L208.2 319.5 L207.4 318.6 L206.7 317.7 L206 316.6 L205.4 315.5 L204.9 314.3 L204.5 313 L204.2 311.6 L204 310.1 L203.8 308.6 L203.8 307 L203.8 305.3 L204 303.6 L204.2 301.9 L204.5 300.1 L204.9 298.4 L205.4 296.6 L206 294.8 L206.7 292.9 L207.4 291.1 L208.2 289.4 L209.1 287.6 L210.1 285.9 L211.1 284.2 L212.2 282.5 L213.3 280.9 L214.5 279.4 L215.7 277.9 L217 276.5 L218.3 275.1 L219.7 273.9 L221 272.7 L222.4 271.7 L223.8 270.7 L225.2 269.9 L226.6 269.1 L228 268.5 L229.4 267.9 L230.8 267.5 L232.1 267.2 L233.4 267 L234.7 266.9 L235.9 267 L237.1 267.2 L238.3 267.4 L239.3 267.8 L240.4 268.4 L245.6 271.4 L246.5 272 L247.4 272.7 L248.2 273.6 L249 274.5 L249.6 275.6 L250.2 276.7 L250.7 277.9 L251.1 279.2 L251.4 280.6 L251.7 282.1 L251.8 283.6 L251.8 285.2 L251.8 286.9 L251.7 288.6 L251.4 290.3 L251.1 292.1 L250.7 293.8 L250.2 295.6 L249.6 297.4 L249 299.3 L248.2 301.1 L247.4 302.8 L246.5 304.6 L245.6 306.3 L244.5 308 L243.5 309.7 L242.3 311.3 L241.1 312.8 L239.9 314.3 L238.6 315.7 L237.3 317.1 L236 318.3 L234.6 319.5 L233.2 320.5 L231.8 321.5 L230.4 322.3 L229 323.1 L227.6 323.7 L226.2 324.3 L224.9 324.7 L223.5 325 L222.2 325.2 L220.9 325.3 L219.7 325.2 L218.5 325 L217.4 324.8 L216.3 324.4 L215.3 323.8 Z" fill="#fff" stroke="none" stroke-width="0" stroke-linejoin="round" stroke-linecap="round" />
<path d="M240.4 268.4 L245.6 271.4 L246.5 272 L247.4 272.7 L248.2 273.6 L249 274.5 L249.6 275.6 L250.2 276.7 L250.7 277.9 L251.1 279.2 L251.4 280.6 L251.7 282.1 L251.8 283.6 L251.8 285.2 L251.8 286.9 L251.7 288.6 L251.4 290.3 L251.1 292.1 L250.7 293.8 L250.2 295.6 L249.6 297.4 L249 299.3 L248.2 301.1 L247.4 302.8 L246.5 304.6 L245.6 306.3 L244.5 308 L243.5 309.7 L242.3 311.3 L241.1 312.8 L239.9 314.3 L238.6 315.7 L237.3 317.1 L236 318.3 L234.6 319.5 L233.2 320.5 L231.8 321.5 L230.4 322.3 L229 323.1 L227.6 323.7 L226.2 324.3 L224.9 324.7 L223.5 325 L222.2 325.2 L220.9 325.3 L219.7 325.2 L218.5 325 L217.4 324.8 L216.3 324.4 L215.3 323.8 L210.1 320.8" fill="none" stroke="#000" stroke-width="1.5" stroke-linejoin="round" stroke-linecap="round" />
<path d="M212.3 322.1 L211.3 321.5 L210.4 320.7 L209.5 319.7 L208.7 318.7 L208 317.6 L207.5 316.3 L207 315 L206.6 313.5 L206.3 312 L206.1 310.4 L206 308.7 L206.1 307 L206.2 305.2 L206.4 303.3 L206.8 301.4 L207.2 299.5 L207.7 297.6 L208.4 295.7 L209.1 293.8 L209.9 291.8 L210.8 289.9 L211.8 288.1 L212.9 286.2 L214 284.5 L215.2 282.7 L216.4 281.1 L217.7 279.5 L219.1 278 L220.5 276.5 L221.9 275.2 L223.4 274 L224.9 272.9 L226.3 271.8 L227.8 270.9 L229.3 270.2 L230.8 269.5 L232.3 269 L233.7 268.6 L235.1 268.4 L236.5 268.3 L237.9 268.3 L239.1 268.4 L240.4 268.7 L241.5 269.1 L242.6 269.7 L243.6 270.3 L244.6 271.1 L245.4 272.1" fill="none" stroke="#000" stroke-width="1.5" stroke-linejoin="round" stroke-linecap="round" />
<path d="M215.7 323.1 L214.8 322.6 L214 321.9 L213.3 321.2 L212.6 320.4 L212 319.5 L211.4 318.5 L210.9 317.5 L210.5 316.3 L210.2 315.1 L209.9 313.9 L209.7 312.6 L209.6 311.2 L209.6 309.8 L209.6 308.3 L209.7 306.8 L209.9 305.3 L210.1 303.7 L210.4 302.1 L210.8 300.5 L211.3 298.9 L211.9 297.3 L212.5 295.7 L213.1 294.1 L213.9 292.5 L214.7 290.9 L215.5 289.4 L216.4 287.8 L217.4 286.4 L218.4 284.9 L219.4 283.5 L220.5 282.2 L221.6 280.9 L222.7 279.6 L223.9 278.5 L225.1 277.4 L226.3 276.3 L227.6 275.4 L228.8 274.5 L230.1 273.7 L231.3 273 L232.6 272.4 L233.8 271.9 L235 271.4 L236.2 271.1 L237.4 270.9 L238.6 270.7 L239.7 270.7 L240.8 270.7" fill="none" stroke="#000" stroke-width="1.5" stroke-linejoin="round" stroke-linecap="round" />
<path d="M216.1 322.5 L215.2 321.9 L214.3 321.2 L213.5 320.4 L212.8 319.5 L212.2 318.5 L211.7 317.4 L211.2 316.2 L210.8 315 L210.5 313.7 L210.3 312.3 L210.2 310.8 L210.1 309.3 L210.2 307.8 L210.3 306.2 L210.5 304.5 L210.8 302.9 L211.2 301.2 L211.7 299.5 L212.2 297.7 L212.8 296 L213.5 294.3 L214.3 292.6 L215.2 291 L216.1 289.3 L217 287.7 L218.1 286.1 L219.1 284.6 L220.3 283.2 L221.4 281.8 L222.6 280.4 L223.9 279.2 L225.2 278 L226.5 276.9 L227.8 275.9 L229.1 275 L230.4 274.2 L231.7 273.5 L233.1 272.8 L234.4 272.3 L235.7 271.9 L236.9 271.6 L238.2 271.5 L239.4 271.4 L240.6 271.4 L241.7 271.6 L242.8 271.9 L243.8 272.3 L244.8 272.7 L255.2 278.7 L256.1 279.3 L256.9 280 L257.7 280.8 L258.4 281.7 L259 282.7 L259.6 283.8 L260 285 L260.4 286.2 L260.7 287.5 L260.9 288.9 L261.1 290.4 L261.1 291.9 L261.1 293.4 L260.9 295 L260.7 296.7 L260.4 298.3 L260 300 L259.6 301.7 L259 303.5 L258.4 305.2 L257.7 306.9 L256.9 308.6 L256.1 310.2 L255.2 311.9 L254.2 313.5 L253.2 315.1 L252.1 316.6 L250.9 318 L249.8 319.4 L248.6 320.8 L247.3 322 L246.1 323.2 L244.8 324.3 L243.5 325.3 L242.1 326.2 L240.8 327 L239.5 327.7 L238.2 328.4 L236.8 328.9 L235.5 329.3 L234.3 329.6 L233 329.7 L231.8 329.8 L230.7 329.8 L229.5 329.6 L228.4 329.3 L227.4 328.9 L226.5 328.5 Z" fill="#fff" stroke="none" stroke-width="0" stroke-linejoin="round" stroke-linecap="round" />
<path d="M244.8 272.7 L255.2 278.7 L256.1 279.3 L256.9 280 L257.7 280.8 L258.4 281.7 L259 282.7 L259.6 283.8 L260 285 L260.4 286.2 L260.7 287.5 L260.9 288.9 L261.1 290.4 L261.1 291.9 L261.1 293.4 L260.9 295 L260.7 296.7 L260.4 298.3 L260 300 L259.6 301.7 L259 303.5 L258.4 305.2 L257.7 306.9 L256.9 308.6 L256.1 310.2 L255.2 311.9 L254.2 313.5 L253.2 315.1 L252.1 316.6 L250.9 318 L249.8 319.4 L248.6 320.8 L247.3 322 L246.1 323.2 L244.8 324.3 L243.5 325.3 L242.1 326.2 L240.8 327 L239.5 327.7 L238.2 328.4 L236.8 328.9 L235.5 329.3 L234.3 329.6 L233 329.7 L231.8 329.8 L230.7 329.8 L229.5 329.6 L228.4 329.3 L227.4 328.9 L226.5 328.5 L216.1 322.5" fill="none" stroke="#000" stroke-width="1.5" stroke-linejoin="round" stroke-linecap="round" />
<path d="M224.5 327.4 L223.6 326.7 L222.7 326 L221.9 325.2 L221.2 324.2 L220.6 323.2 L220 322.1 L219.6 320.8 L219.2 319.5 L218.9 318.2 L218.7 316.7 L218.6 315.2 L218.6 313.6 L218.7 312 L218.9 310.3 L219.1 308.6 L219.5 306.9 L219.9 305.1 L220.5 303.3 L221.1 301.6 L221.8 299.8 L222.6 298 L223.4 296.3 L224.3 294.6 L225.3 292.9 L226.4 291.3 L227.5 289.7 L228.6 288.2 L229.8 286.8 L231.1 285.4 L232.4 284.1 L233.7 282.9 L235 281.7 L236.4 280.7 L237.7 279.8 L239.1 278.9 L240.5 278.2 L241.9 277.6 L243.2 277.1 L244.5 276.7 L245.8 276.5 L247.1 276.3 L248.3 276.3 L249.5 276.4 L250.7 276.6 L251.8 277 L252.8 277.4 L253.8 278 L254.7 278.6" fill="none" stroke="#000" stroke-width="1.5" stroke-linejoin="round" stroke-linecap="round" />
<path d="M226 327.3 L225.2 326.7 L224.5 326 L223.8 325.3 L223.2 324.4 L222.7 323.5 L222.2 322.5 L221.8 321.4 L221.5 320.2 L221.3 319 L221.1 317.8 L221 316.4 L220.9 315.1 L220.9 313.7 L221.1 312.2 L221.2 310.8 L221.5 309.3 L221.8 307.7 L222.2 306.2 L222.6 304.6 L223.2 303.1 L223.8 301.5 L224.4 300 L225.1 298.5 L225.9 297 L226.7 295.5 L227.6 294 L228.5 292.6 L229.5 291.2 L230.5 289.9 L231.5 288.6 L232.6 287.4 L233.7 286.2 L234.9 285.1 L236 284 L237.2 283.1 L238.4 282.2 L239.6 281.4 L240.8 280.6 L242 280 L243.2 279.4 L244.4 279 L245.5 278.6 L246.7 278.3 L247.8 278.1 L248.9 278 L250 278 L251.1 278.1 L252.1 278.3" fill="none" stroke="#000" stroke-width="1" stroke-linejoin="round" stroke-linecap="round" />
<path d="M226.9 324.8 L226.1 324.2 L225.3 323.6 L224.6 322.9 L224 322.1 L223.5 321.3 L223 320.3 L222.6 319.3 L222.2 318.2 L222 317 L221.8 315.8 L221.7 314.5 L221.6 313.2 L221.7 311.8 L221.8 310.4 L222 309 L222.2 307.5 L222.6 306 L223 304.5 L223.5 303 L224 301.5 L224.6 300 L225.3 298.5 L226.1 297 L226.9 295.5 L227.7 294.1 L228.6 292.7 L229.6 291.4 L230.6 290.1 L231.6 288.9 L232.7 287.7 L233.8 286.6 L234.9 285.6 L236 284.6 L237.2 283.7 L238.3 282.9 L239.5 282.2 L240.7 281.6 L241.8 281 L243 280.6 L244.1 280.2 L245.3 280 L246.3 279.8 L247.4 279.8 L248.4 279.8 L249.4 279.9 L250.4 280.2 L251.3 280.5 L252.2 280.9 L314.9 317.2 L315.7 317.7 L316.5 318.3 L317.2 319 L317.8 319.8 L318.3 320.7 L318.8 321.7 L319.2 322.7 L319.6 323.8 L319.8 324.9 L320 326.2 L320.1 327.4 L320.2 328.8 L320.1 330.1 L320 331.6 L319.8 333 L319.6 334.5 L319.2 336 L318.8 337.5 L318.3 339 L317.8 340.5 L317.2 342 L316.5 343.5 L315.7 345 L314.9 346.4 L314.1 347.8 L313.2 349.2 L312.2 350.5 L311.2 351.8 L310.2 353.1 L309.1 354.2 L308 355.3 L306.9 356.4 L305.8 357.3 L304.6 358.2 L303.5 359 L302.3 359.8 L301.1 360.4 L300 360.9 L298.8 361.4 L297.7 361.7 L296.5 362 L295.4 362.1 L294.4 362.2 L293.3 362.2 L292.4 362 L291.4 361.8 L290.5 361.4 L289.6 361 Z" fill="#fff" stroke="none" stroke-width="0" stroke-linejoin="round" stroke-linecap="round" />
<path d="M252.2 280.9 L314.9 317.2 L315.7 317.7 L316.5 318.3 L317.2 319 L317.8 319.8 L318.3 320.7 L318.8 321.7 L319.2 322.7 L319.6 323.8 L319.8 324.9 L320 326.2 L320.1 327.4 L320.2 328.8 L320.1 330.1 L320 331.6 L319.8 333 L319.6 334.5 L319.2 336 L318.8 337.5 L318.3 339 L317.8 340.5 L317.2 342 L316.5 343.5 L315.7 345 L314.9 346.4 L314.1 347.8 L313.2 349.2 L312.2 350.5 L311.2 351.8 L310.2 353.1 L309.1 354.2 L308 355.3 L306.9 356.4 L305.8 357.3 L304.6 358.2 L303.5 359 L302.3 359.8 L301.1 360.4 L300 360.9 L298.8 361.4 L297.7 361.7 L296.5 362 L295.4 362.1 L294.4 362.2 L293.3 362.2 L292.4 362 L291.4 361.8 L290.5 361.4 L289.6 361 L226.9 324.8" fill="none" stroke="#000" stroke-width="1.5" stroke-linejoin="round" stroke-linecap="round" />
<path d="M228.2 326.1 L227.4 325.6 L226.7 325 L226.1 324.3 L225.5 323.5 L225 322.7 L224.5 321.8 L224.1 320.8 L223.8 319.8 L223.5 318.7 L223.3 317.5 L223.2 316.3 L223.1 315.1 L223.1 313.8 L223.2 312.4 L223.3 311.1 L223.5 309.7 L223.8 308.3 L224.1 306.8 L224.5 305.4 L225 304 L225.5 302.5 L226.1 301.1 L226.7 299.6 L227.4 298.2 L228.2 296.8 L229 295.5 L229.9 294.1 L230.7 292.8 L231.7 291.6 L232.7 290.4 L233.7 289.2 L234.7 288.1 L235.7 287.1 L236.8 286.1 L237.9 285.2 L239 284.3 L240.1 283.6 L241.3 282.9 L242.4 282.3 L243.5 281.7 L244.6 281.3 L245.7 280.9 L246.8 280.6 L247.8 280.5 L248.9 280.4 L249.9 280.4 L250.8 280.4 L251.8 280.6" fill="none" stroke="#000" stroke-width="2.2" stroke-linejoin="round" stroke-linecap="round" />
<path d="M356.3 229.1 L355.7 228.6 L355 228.1 L354.4 227.5 L353.9 226.8 L353.5 226.1 L353 225.2 L352.7 224.4 L352.4 223.4 L352.2 222.4 L352 221.4 L351.9 220.3 L351.9 219.2 L351.9 218 L352 216.8 L352.2 215.6 L352.4 214.3 L352.7 213 L353 211.7 L353.5 210.5 L353.9 209.2 L354.4 207.9 L355 206.6 L355.7 205.4 L356.3 204.1 L357.1 202.9 L357.9 201.7 L358.7 200.6 L359.5 199.5 L360.4 198.4 L361.3 197.4 L362.2 196.5 L363.2 195.6 L364.2 194.8 L365.2 194 L366.1 193.3 L367.1 192.7 L368.1 192.2 L369.1 191.7 L370.1 191.3 L371.1 191 L372.1 190.8 L373 190.7 L373.9 190.6 L374.8 190.7 L375.6 190.8 L376.4 191 L377.2 191.3 L377.9 191.6 L457.2 237.4 L457.9 237.8 L458.5 238.4 L459.1 239 L459.6 239.6 L460.1 240.4 L460.5 241.2 L460.9 242.1 L461.1 243 L461.4 244 L461.5 245.1 L461.6 246.1 L461.7 247.3 L461.6 248.5 L461.5 249.7 L461.4 250.9 L461.1 252.1 L460.9 253.4 L460.5 254.7 L460.1 256 L459.6 257.3 L459.1 258.6 L458.5 259.8 L457.9 261.1 L457.2 262.3 L456.5 263.5 L455.7 264.7 L454.9 265.9 L454 267 L453.1 268 L452.2 269 L451.3 270 L450.3 270.9 L449.4 271.7 L448.4 272.4 L447.4 273.1 L446.4 273.7 L445.4 274.3 L444.4 274.7 L443.4 275.1 L442.4 275.4 L441.5 275.6 L440.5 275.8 L439.6 275.8 L438.8 275.8 L437.9 275.7 L437.1 275.5 L436.3 275.2 L435.6 274.8 Z" fill="#fff" stroke="none" stroke-width="0" stroke-linejoin="round" stroke-linecap="round" />
<path d="M377.9 191.6 L457.2 237.4" fill="none" stroke="#000" stroke-width="1.5" stroke-linejoin="round" stroke-linecap="round" />
<path d="M356.3 229.1 L435.6 274.8" fill="none" stroke="#000" stroke-width="1.5" stroke-linejoin="round" stroke-linecap="round" />
<path d="M110.7 267.2 L112.2 265.1 L130.8 255.8 L137.9 254.4 L145.8 250.8 L158.7 241.9 L160.1 241.5 L163 243.6 L150 262 L149.4 288 L140.8 292.3 L120 303 L111.2 298 Z" fill="#fff" stroke="none" stroke-width="0" stroke-linejoin="round" stroke-linecap="round" />
<path d="M149.4 288 L140.8 292.3 L120 303 L111.2 298 L110.7 267.2 L112.2 265.1 L130.8 255.8 L137.9 254.4 L145.8 250.8 L158.7 241.9 L160.1 241.5 L163 243.6" fill="none" stroke="#000" stroke-width="1.5" stroke-linejoin="round" stroke-linecap="round" />
<path d="M110.7 267.2 L118.6 270.8 L140.1 259.4" fill="none" stroke="#000" stroke-width="1.5" stroke-linejoin="round" stroke-linecap="round" />
<path d="M118.6 270.8 L119.3 302.3" fill="none" stroke="#000" stroke-width="1.5" stroke-linejoin="round" stroke-linecap="round" />
<path d="M141.5 259.4 L141.8 291.6" fill="none" stroke="#000" stroke-width="2" stroke-linejoin="round" stroke-linecap="round" />
<path d="M113 268.2 L118.6 270.8" fill="none" stroke="#000" stroke-width="0.8" stroke-linejoin="round" stroke-linecap="round" />
<path d="M125.5 278 Q125.3 272.5 129.5 270.8 Q134 269.5 134.3 275 L134.5 284.5 Q134.5 290 130.3 291.6 Q125.7 293 125.5 287.5 Z" fill="none" stroke="#000" stroke-width="1.5" stroke-linejoin="round" stroke-linecap="round" />
<path d="M127.2 277.5 Q127.5 273.5 130.5 272.3" fill="none" stroke="#000" stroke-width="0.8" stroke-linejoin="round" stroke-linecap="round" />
<path d="M127.3 279.5 L134 283" fill="none" stroke="#000" stroke-width="0.8" stroke-linejoin="round" stroke-linecap="round" />
<path d="M141.5 259.4 L158.7 246.5" fill="none" stroke="#3a3a3a" stroke-width="0.8" stroke-linejoin="round" stroke-linecap="round" />
<path d="M143 262 L157 251" fill="none" stroke="#3a3a3a" stroke-width="0.8" stroke-linejoin="round" stroke-linecap="round" />
<path d="M150.8 288.7 L152.3 316.6" fill="none" stroke="#000" stroke-width="1.5" stroke-linejoin="round" stroke-linecap="round" />
<path d="M561 224.2 L559.1 223 L557.4 221.5 L555.8 219.9 L554.4 218 L553.1 216 L551.9 213.8 L551 211.4 L550.2 208.8 L549.6 206.1 L549.1 203.3 L548.9 200.3 L548.8 197.2 L548.9 194 L549.1 190.7 L549.6 187.3 L550.2 183.9 L551 180.4 L551.9 176.9 L553.1 173.4 L554.4 169.9 L555.8 166.4 L557.4 162.9 L559.1 159.4 L561 156.1 L563 152.8 L565.1 149.5 L567.3 146.4 L569.6 143.4 L572 140.5 L574.5 137.8 L577.1 135.2 L579.7 132.8 L582.4 130.6 L585 128.5 L587.8 126.6 L590.5 124.9 L593.2 123.5 L595.9 122.2 L598.6 121.2 L601.3 120.3 L603.9 119.7 L606.5 119.4 L608.9 119.2 L611.3 119.3 L613.7 119.7 L615.9 120.2 L618 121 L620 122 L630.4 128 L632.2 129.2 L634 130.7 L635.6 132.3 L637 134.2 L638.3 136.2 L639.4 138.4 L640.4 140.8 L641.2 143.4 L641.8 146.1 L642.2 148.9 L642.5 151.9 L642.6 155 L642.5 158.2 L642.2 161.5 L641.8 164.9 L641.2 168.3 L640.4 171.8 L639.4 175.3 L638.3 178.8 L637 182.3 L635.6 185.8 L634 189.3 L632.2 192.8 L630.4 196.1 L628.4 199.4 L626.3 202.7 L624.1 205.8 L621.7 208.8 L619.3 211.7 L616.8 214.4 L614.3 217 L611.7 219.4 L609 221.6 L606.3 223.7 L603.6 225.6 L600.9 227.3 L598.2 228.7 L595.4 230 L592.7 231 L590.1 231.9 L587.5 232.5 L584.9 232.8 L582.4 233 L580 232.9 L577.7 232.5 L575.5 232 L573.4 231.2 L571.4 230.2 Z" fill="#fff" stroke="#000" stroke-width="1.5" stroke-linejoin="round" stroke-linecap="round" />
<path d="M590.2 231.4 L587 232.1 L583.9 232.5 L580.9 232.5 L578.1 232.1 L575.3 231.4 L572.8 230.4 L570.4 229 L568.3 227.3 L566.3 225.3 L564.6 223 L563.1 220.4 L561.9 217.6 L560.9 214.4 L560.2 211.1 L559.7 207.5 L559.5 203.8 L559.6 199.9 L559.9 195.9 L560.6 191.7 L561.4 187.5 L562.6 183.2 L563.9 178.9 L565.6 174.6 L567.4 170.3 L569.5 166.1 L571.8 162 L574.2 158 L576.9 154.1 L579.7 150.4 L582.6 146.8 L585.6 143.5 L588.8 140.4 L592 137.6 L595.3 135 L598.6 132.7 L602 130.7 L605.3 129.1 L608.6 127.7 L611.8 126.7 L615 126 L618.1 125.7 L621.1 125.8 L623.9 126.1 L626.6 126.9 L629.2 127.9 L631.5 129.3 L633.6 131 L635.6 133.1" fill="none" stroke="#222" stroke-width="0.8" stroke-linejoin="round" stroke-linecap="round" />
<path d="M590.5 230.1 L587.3 230.8 L584.3 231.1 L581.4 231.1 L578.6 230.8 L576 230.1 L573.5 229.1 L571.2 227.7 L569.1 226.1 L567.2 224.1 L565.5 221.9 L564.1 219.4 L562.9 216.6 L561.9 213.5 L561.2 210.3 L560.8 206.8 L560.6 203.2 L560.7 199.4 L561 195.5 L561.6 191.4 L562.4 187.3 L563.5 183.1 L564.9 178.9 L566.5 174.7 L568.3 170.6 L570.3 166.5 L572.5 162.4 L574.9 158.5 L577.5 154.7 L580.2 151.1 L583.1 147.7 L586 144.4 L589.1 141.4 L592.2 138.6 L595.4 136.1 L598.7 133.9 L601.9 132 L605.2 130.3 L608.4 129 L611.6 128.1 L614.7 127.4 L617.7 127.1 L620.6 127.1 L623.3 127.5 L626 128.2 L628.4 129.2 L630.7 130.6 L632.8 132.3 L634.7 134.2" fill="none" stroke="#222" stroke-width="0.8" stroke-linejoin="round" stroke-linecap="round" />
<path d="M416.9 307.2 L415 306 L413.3 304.5 L411.7 302.9 L410.3 301 L409 299 L407.8 296.8 L406.9 294.4 L406.1 291.8 L405.5 289.1 L405 286.3 L404.8 283.3 L404.7 280.2 L404.8 277 L405 273.7 L405.5 270.3 L406.1 266.9 L406.9 263.4 L407.8 259.9 L409 256.4 L410.3 252.9 L411.7 249.4 L413.3 245.9 L415 242.4 L416.9 239.1 L418.9 235.8 L421 232.5 L423.2 229.4 L425.5 226.4 L427.9 223.5 L430.4 220.8 L433 218.2 L435.6 215.8 L438.3 213.6 L440.9 211.5 L443.7 209.6 L446.4 207.9 L449.1 206.5 L451.8 205.2 L454.5 204.2 L457.2 203.3 L459.8 202.7 L462.4 202.4 L464.8 202.2 L467.2 202.3 L469.6 202.7 L471.8 203.2 L473.9 204 L475.9 205 L486.3 211 L488.1 212.2 L489.9 213.7 L491.5 215.3 L492.9 217.2 L494.2 219.2 L495.3 221.4 L496.3 223.8 L497.1 226.4 L497.7 229.1 L498.1 231.9 L498.4 234.9 L498.5 238 L498.4 241.2 L498.1 244.5 L497.7 247.9 L497.1 251.3 L496.3 254.8 L495.3 258.3 L494.2 261.8 L492.9 265.3 L491.5 268.8 L489.9 272.3 L488.1 275.8 L486.3 279.1 L484.3 282.4 L482.2 285.7 L480 288.8 L477.6 291.8 L475.2 294.7 L472.7 297.4 L470.2 300 L467.6 302.4 L464.9 304.6 L462.2 306.7 L459.5 308.6 L456.8 310.3 L454.1 311.7 L451.3 313 L448.6 314 L446 314.9 L443.4 315.5 L440.8 315.8 L438.3 316 L435.9 315.9 L433.6 315.5 L431.4 315 L429.3 314.2 L427.3 313.2 Z" fill="#fff" stroke="#000" stroke-width="1.5" stroke-linejoin="round" stroke-linecap="round" />
<path d="M446.1 314.4 L442.9 315.1 L439.8 315.5 L436.8 315.5 L434 315.1 L431.2 314.4 L428.7 313.4 L426.3 312 L424.2 310.3 L422.2 308.3 L420.5 306 L419 303.4 L417.8 300.6 L416.8 297.4 L416.1 294.1 L415.6 290.5 L415.4 286.8 L415.5 282.9 L415.8 278.9 L416.5 274.7 L417.3 270.5 L418.5 266.2 L419.8 261.9 L421.5 257.6 L423.3 253.3 L425.4 249.1 L427.7 245 L430.1 241 L432.8 237.1 L435.6 233.4 L438.5 229.8 L441.5 226.5 L444.7 223.4 L447.9 220.6 L451.2 218 L454.5 215.7 L457.9 213.7 L461.2 212.1 L464.5 210.7 L467.7 209.7 L470.9 209 L474 208.7 L477 208.8 L479.8 209.1 L482.5 209.9 L485.1 210.9 L487.4 212.3 L489.5 214 L491.5 216.1" fill="none" stroke="#222" stroke-width="0.8" stroke-linejoin="round" stroke-linecap="round" />
<path d="M446.4 313.1 L443.2 313.8 L440.2 314.1 L437.3 314.1 L434.5 313.8 L431.9 313.1 L429.4 312.1 L427.1 310.7 L425 309.1 L423.1 307.1 L421.4 304.9 L420 302.4 L418.8 299.6 L417.8 296.5 L417.1 293.3 L416.7 289.8 L416.5 286.2 L416.6 282.4 L416.9 278.5 L417.5 274.4 L418.3 270.3 L419.4 266.1 L420.8 261.9 L422.4 257.7 L424.2 253.6 L426.2 249.5 L428.4 245.4 L430.8 241.5 L433.4 237.7 L436.1 234.1 L439 230.7 L441.9 227.4 L445 224.4 L448.1 221.6 L451.3 219.1 L454.6 216.9 L457.8 215 L461.1 213.3 L464.3 212 L467.5 211.1 L470.6 210.4 L473.6 210.1 L476.5 210.1 L479.2 210.5 L481.9 211.2 L484.3 212.2 L486.6 213.6 L488.7 215.3 L490.6 217.2" fill="none" stroke="#222" stroke-width="0.8" stroke-linejoin="round" stroke-linecap="round" />
<path d="M272.8 390.2 L270.9 389 L269.2 387.5 L267.6 385.9 L266.2 384 L264.9 382 L263.7 379.8 L262.8 377.4 L262 374.8 L261.4 372.1 L260.9 369.3 L260.7 366.3 L260.6 363.2 L260.7 360 L260.9 356.7 L261.4 353.3 L262 349.9 L262.8 346.4 L263.7 342.9 L264.9 339.4 L266.2 335.9 L267.6 332.4 L269.2 328.9 L270.9 325.4 L272.8 322.1 L274.8 318.8 L276.9 315.5 L279.1 312.4 L281.4 309.4 L283.8 306.5 L286.3 303.8 L288.9 301.2 L291.5 298.8 L294.2 296.6 L296.8 294.5 L299.6 292.6 L302.3 290.9 L305 289.5 L307.7 288.2 L310.4 287.2 L313.1 286.3 L315.7 285.7 L318.3 285.4 L320.7 285.2 L323.1 285.3 L325.5 285.7 L327.7 286.2 L329.8 287 L331.8 288 L342.2 294 L344 295.2 L345.8 296.7 L347.4 298.3 L348.8 300.2 L350.1 302.2 L351.2 304.4 L352.2 306.8 L353 309.4 L353.6 312.1 L354 314.9 L354.3 317.9 L354.4 321 L354.3 324.2 L354 327.5 L353.6 330.9 L353 334.3 L352.2 337.8 L351.2 341.3 L350.1 344.8 L348.8 348.3 L347.4 351.8 L345.8 355.3 L344 358.8 L342.2 362.1 L340.2 365.4 L338.1 368.7 L335.9 371.8 L333.5 374.8 L331.1 377.7 L328.6 380.4 L326.1 383 L323.5 385.4 L320.8 387.6 L318.1 389.7 L315.4 391.6 L312.7 393.3 L310 394.7 L307.2 396 L304.5 397 L301.9 397.9 L299.3 398.5 L296.7 398.8 L294.2 399 L291.8 398.9 L289.5 398.5 L287.3 398 L285.2 397.2 L283.2 396.2 Z" fill="#fff" stroke="#000" stroke-width="1.5" stroke-linejoin="round" stroke-linecap="round" />
<path d="M302 397.4 L298.8 398.1 L295.7 398.5 L292.7 398.5 L289.9 398.1 L287.1 397.4 L284.6 396.4 L282.2 395 L280.1 393.3 L278.1 391.3 L276.4 389 L274.9 386.4 L273.7 383.6 L272.7 380.4 L272 377.1 L271.5 373.5 L271.3 369.8 L271.4 365.9 L271.7 361.9 L272.4 357.7 L273.2 353.5 L274.4 349.2 L275.7 344.9 L277.4 340.6 L279.2 336.3 L281.3 332.1 L283.6 328 L286 324 L288.7 320.1 L291.5 316.4 L294.4 312.8 L297.4 309.5 L300.6 306.4 L303.8 303.6 L307.1 301 L310.4 298.7 L313.8 296.7 L317.1 295.1 L320.4 293.7 L323.6 292.7 L326.8 292 L329.9 291.7 L332.9 291.8 L335.7 292.1 L338.4 292.9 L341 293.9 L343.3 295.3 L345.4 297 L347.4 299.1" fill="none" stroke="#222" stroke-width="0.8" stroke-linejoin="round" stroke-linecap="round" />
<path d="M302.3 396.1 L299.1 396.8 L296.1 397.1 L293.2 397.1 L290.4 396.8 L287.8 396.1 L285.3 395.1 L283 393.7 L280.9 392.1 L279 390.1 L277.3 387.9 L275.9 385.4 L274.7 382.6 L273.7 379.5 L273 376.3 L272.6 372.8 L272.4 369.2 L272.5 365.4 L272.8 361.5 L273.4 357.4 L274.2 353.3 L275.3 349.1 L276.7 344.9 L278.3 340.7 L280.1 336.6 L282.1 332.5 L284.3 328.4 L286.7 324.5 L289.3 320.7 L292 317.1 L294.9 313.7 L297.8 310.4 L300.9 307.4 L304 304.6 L307.2 302.1 L310.5 299.9 L313.7 298 L317 296.3 L320.2 295 L323.4 294.1 L326.5 293.4 L329.5 293.1 L332.4 293.1 L335.1 293.5 L337.8 294.2 L340.2 295.2 L342.5 296.6 L344.6 298.3 L346.5 300.2" fill="none" stroke="#222" stroke-width="0.8" stroke-linejoin="round" stroke-linecap="round" />
<path d="M592.6 193.4 L592.1 193 L591.6 192.6 L591.2 192.2 L590.8 191.7 L590.4 191.1 L590.1 190.5 L589.8 189.8 L589.6 189.1 L589.4 188.3 L589.3 187.5 L589.2 186.7 L589.2 185.8 L589.2 184.9 L589.3 184 L589.4 183.1 L589.6 182.1 L589.8 181.1 L590.1 180.2 L590.4 179.2 L590.8 178.2 L591.2 177.2 L591.6 176.2 L592.1 175.3 L592.6 174.3 L593.2 173.4 L593.8 172.5 L594.4 171.6 L595 170.8 L595.7 170 L596.4 169.2 L597.1 168.5 L597.9 167.8 L598.6 167.2 L599.4 166.6 L600.1 166.1 L600.9 165.6 L601.6 165.2 L602.4 164.9 L603.2 164.6 L603.9 164.3 L604.6 164.2 L605.3 164.1 L606 164 L606.7 164.1 L607.4 164.2 L608 164.3 L608.6 164.5 L609.1 164.8 L676.9 204 L677.5 204.3 L677.9 204.7 L678.4 205.2 L678.8 205.7 L679.2 206.2 L679.5 206.9 L679.7 207.5 L680 208.3 L680.1 209 L680.3 209.8 L680.3 210.6 L680.4 211.5 L680.3 212.4 L680.3 213.3 L680.1 214.3 L680 215.2 L679.7 216.2 L679.5 217.2 L679.2 218.2 L678.8 219.2 L678.4 220.1 L677.9 221.1 L677.5 222.1 L676.9 223 L676.4 223.9 L675.8 224.8 L675.2 225.7 L674.5 226.5 L673.9 227.4 L673.2 228.1 L672.4 228.8 L671.7 229.5 L671 230.1 L670.2 230.7 L669.5 231.3 L668.7 231.7 L667.9 232.1 L667.2 232.5 L666.4 232.8 L665.7 233 L664.9 233.2 L664.2 233.3 L663.5 233.3 L662.9 233.3 L662.2 233.2 L661.6 233 L661 232.8 L660.4 232.5 Z" fill="#fff" stroke="none" stroke-width="0" stroke-linejoin="round" stroke-linecap="round" />
<path d="M609.1 164.8 L676.9 204 L677.5 204.3 L677.9 204.7 L678.4 205.2 L678.8 205.7 L679.2 206.2 L679.5 206.9 L679.7 207.5 L680 208.3 L680.1 209 L680.3 209.8 L680.3 210.6 L680.4 211.5 L680.3 212.4 L680.3 213.3 L680.1 214.3 L680 215.2 L679.7 216.2 L679.5 217.2 L679.2 218.2 L678.8 219.2 L678.4 220.1 L677.9 221.1 L677.5 222.1 L676.9 223 L676.4 223.9 L675.8 224.8 L675.2 225.7 L674.5 226.5 L673.9 227.4 L673.2 228.1 L672.4 228.8 L671.7 229.5 L671 230.1 L670.2 230.7 L669.5 231.3 L668.7 231.7 L667.9 232.1 L667.2 232.5 L666.4 232.8 L665.7 233 L664.9 233.2 L664.2 233.3 L663.5 233.3 L662.9 233.3 L662.2 233.2 L661.6 233 L661 232.8 L660.4 232.5 L592.6 193.4" fill="none" stroke="#000" stroke-width="1.5" stroke-linejoin="round" stroke-linecap="round" />
<path d="M592.6 193.4 L592.1 193 L591.6 192.6 L591.2 192.2 L590.8 191.7 L590.4 191.1 L590.1 190.5 L589.8 189.8 L589.6 189.1 L589.4 188.3 L589.3 187.5 L589.2 186.7 L589.2 185.8 L589.2 184.9 L589.3 184 L589.4 183.1 L589.6 182.1 L589.8 181.1 L590.1 180.2 L590.4 179.2 L590.8 178.2 L591.2 177.2 L591.6 176.2 L592.1 175.3 L592.6 174.3 L593.2 173.4 L593.8 172.5 L594.4 171.6 L595 170.8 L595.7 170 L596.4 169.2 L597.1 168.5 L597.9 167.8 L598.6 167.2 L599.4 166.6 L600.1 166.1 L600.9 165.6 L601.6 165.2 L602.4 164.9 L603.2 164.6 L603.9 164.3 L604.6 164.2 L605.3 164.1 L606 164 L606.7 164.1 L607.4 164.2 L608 164.3 L608.6 164.5 L609.1 164.8" fill="none" stroke="#222" stroke-width="0.9" stroke-linejoin="round" stroke-linecap="round" />
<path d="M593.3 195.1 L592.6 194.8 L592 194.5 L591.3 194.1 L590.8 193.6 L590.3 193 L589.8 192.4 L589.4 191.7 L589.1 191 L588.8 190.1 L588.6 189.3 L588.4 188.3 L588.3 187.4 L588.3 186.3 L588.3 185.3 L588.4 184.2 L588.6 183.1 L588.8 182 L589.1 180.8 L589.4 179.7 L589.8 178.5 L590.3 177.3 L590.8 176.2 L591.4 175.1 L592 174 L592.6 172.9 L593.3 171.8 L594.1 170.8 L594.8 169.8 L595.6 168.9 L596.5 168 L597.3 167.2 L598.2 166.5 L599.1 165.8 L600 165.1 L600.9 164.6 L601.8 164.1 L602.7 163.7 L603.5 163.4 L604.4 163.1 L605.3 162.9 L606.1 162.9 L606.9 162.9 L607.7 162.9 L608.4 163.1 L609.1 163.3 L609.8 163.7 L610.4 164.1 L610.9 164.5" fill="none" stroke="#555" stroke-width="0.8" stroke-linejoin="round" stroke-linecap="round" />
<path d="M632 216.1 L631.5 215.8 L631 215.4 L630.6 214.9 L630.2 214.4 L629.8 213.9 L629.5 213.2 L629.2 212.6 L629 211.8 L628.8 211.1 L628.7 210.3 L628.6 209.5 L628.6 208.6 L628.6 207.7 L628.7 206.8 L628.8 205.8 L629 204.9 L629.2 203.9 L629.5 202.9 L629.8 201.9 L630.2 200.9 L630.6 200 L631 199 L631.5 198 L632 197.1 L632.6 196.2 L633.2 195.3 L633.8 194.4 L634.5 193.6 L635.1 192.7 L635.8 192 L636.5 191.3 L637.3 190.6 L638 190 L638.8 189.4 L639.5 188.8 L640.3 188.4 L641 188 L641.8 187.6 L642.6 187.3 L643.3 187.1 L644 186.9 L644.8 186.8 L645.4 186.8 L646.1 186.8 L646.8 186.9 L647.4 187.1 L648 187.3 L648.5 187.6" fill="none" stroke="#000" stroke-width="1.5" stroke-linejoin="round" stroke-linecap="round" />
<path d="M667.8 198.1 L767.6 140.6 L779.7 147.5 L779.9 161.5 L684.5 216.3 L681 217.8 L678.8 219.8 L677.2 222 L675.4 225.4 L674.5 226.6 L673.5 227.8 L672.4 228.8 L671.4 229.8 L670.3 230.7 L669.2 231.4 L668.1 232 L667 232.6 L665.9 232.9 L664.9 233.2 L663.8 233.3 L662.9 233.3 L661.9 233.1 L661.1 232.8 L660.3 232.4 L659.5 231.9 L658.9 231.2 L658.3 230.4 L657.9 229.6 L657.5 228.6 L657.2 227.5 L657.1 226.3 L657 225.1 L657.1 223.8 L657.2 222.4 L657.5 221.1 L657.8 219.6 L658.3 218.2 L658.8 216.8 L659.4 215.4 L660.1 214 L660.9 212.7 L661.8 211.4 L662.7 210.1 L663.7 209 L664.7 207.9 L665.8 206.9 L666.8 206 L667.9 205.2 L669 204.6 L670.1 204 L671.2 203.6 L672.3 203.4 L673.3 203.2 L674.3 203.2 L675.2 203.3 L676.1 203.6 L676.9 204 Z" fill="#fff" stroke="#000" stroke-width="1.5" stroke-linejoin="round" stroke-linecap="round" />
<path d="M678.5 204.6 L779.7 147.5" fill="none" stroke="#000" stroke-width="1.5" stroke-linejoin="round" stroke-linecap="round" />
<path d="M660 230.3 L659.7 229.9 L659.3 229.4 L659.1 229 L658.8 228.4 L658.6 227.9 L658.4 227.3 L658.3 226.7 L658.2 226 L658.1 225.3 L658.1 224.6 L658.1 223.9 L658.1 223.2 L658.2 222.4 L658.3 221.6 L658.5 220.8 L658.7 220.1 L658.9 219.3 L659.1 218.4 L659.4 217.6 L659.7 216.8 L660.1 216 L660.5 215.2 L660.9 214.5 L661.3 213.7 L661.8 212.9 L662.3 212.2 L662.8 211.5 L663.3 210.8 L663.9 210.1 L664.4 209.5 L665 208.9 L665.6 208.3 L666.2 207.8 L666.8 207.3 L667.4 206.8 L668 206.4 L668.7 206 L669.3 205.7 L669.9 205.4 L670.5 205.1 L671.1 204.9 L671.7 204.8 L672.3 204.6 L672.9 204.6 L673.5 204.6 L674 204.6 L674.6 204.7 L675.1 204.8 L679.3 206.6 L779.7 149.4" fill="none" stroke="#000" stroke-width="0.8" stroke-linejoin="round" stroke-linecap="round" />
<path d="M304.4 359.4 L303.9 359 L303.4 358.6 L303 358.2 L302.6 357.7 L302.2 357.1 L301.9 356.5 L301.6 355.8 L301.4 355.1 L301.2 354.3 L301.1 353.5 L301 352.7 L301 351.8 L301 350.9 L301.1 350 L301.2 349.1 L301.4 348.1 L301.6 347.1 L301.9 346.2 L302.2 345.2 L302.6 344.2 L303 343.2 L303.4 342.2 L303.9 341.3 L304.4 340.3 L305 339.4 L305.6 338.5 L306.2 337.6 L306.8 336.8 L307.5 336 L308.2 335.2 L308.9 334.5 L309.7 333.8 L310.4 333.2 L311.2 332.6 L311.9 332.1 L312.7 331.6 L313.4 331.2 L314.2 330.9 L315 330.6 L315.7 330.3 L316.4 330.2 L317.1 330.1 L317.8 330 L318.5 330.1 L319.2 330.2 L319.8 330.3 L320.4 330.5 L320.9 330.8 L389.5 370.4 L390 370.8 L390.5 371.2 L391 371.6 L391.4 372.1 L391.7 372.7 L392.1 373.3 L392.3 374 L392.5 374.7 L392.7 375.5 L392.8 376.3 L392.9 377.1 L392.9 378 L392.9 378.9 L392.8 379.8 L392.7 380.7 L392.5 381.7 L392.3 382.7 L392.1 383.6 L391.7 384.6 L391.4 385.6 L391 386.6 L390.5 387.6 L390 388.5 L389.5 389.5 L389 390.4 L388.4 391.3 L387.8 392.2 L387.1 393 L386.4 393.8 L385.7 394.6 L385 395.3 L384.3 396 L383.5 396.6 L382.8 397.2 L382 397.7 L381.3 398.2 L380.5 398.6 L379.7 398.9 L379 399.2 L378.3 399.5 L377.5 399.6 L376.8 399.7 L376.1 399.8 L375.4 399.7 L374.8 399.6 L374.2 399.5 L373.6 399.3 L373 399 Z" fill="#fff" stroke="none" stroke-width="0" stroke-linejoin="round" stroke-linecap="round" />
<path d="M320.9 330.8 L389.5 370.4 L390 370.8 L390.5 371.2 L391 371.6 L391.4 372.1 L391.7 372.7 L392.1 373.3 L392.3 374 L392.5 374.7 L392.7 375.5 L392.8 376.3 L392.9 377.1 L392.9 378 L392.9 378.9 L392.8 379.8 L392.7 380.7 L392.5 381.7 L392.3 382.7 L392.1 383.6 L391.7 384.6 L391.4 385.6 L391 386.6 L390.5 387.6 L390 388.5 L389.5 389.5 L389 390.4 L388.4 391.3 L387.8 392.2 L387.1 393 L386.4 393.8 L385.7 394.6 L385 395.3 L384.3 396 L383.5 396.6 L382.8 397.2 L382 397.7 L381.3 398.2 L380.5 398.6 L379.7 398.9 L379 399.2 L378.3 399.5 L377.5 399.6 L376.8 399.7 L376.1 399.8 L375.4 399.7 L374.8 399.6 L374.2 399.5 L373.6 399.3 L373 399 L304.4 359.4" fill="none" stroke="#000" stroke-width="1.5" stroke-linejoin="round" stroke-linecap="round" />
<path d="M304.4 359.4 L303.9 359 L303.4 358.6 L303 358.2 L302.6 357.7 L302.2 357.1 L301.9 356.5 L301.6 355.8 L301.4 355.1 L301.2 354.3 L301.1 353.5 L301 352.7 L301 351.8 L301 350.9 L301.1 350 L301.2 349.1 L301.4 348.1 L301.6 347.1 L301.9 346.2 L302.2 345.2 L302.6 344.2 L303 343.2 L303.4 342.2 L303.9 341.3 L304.4 340.3 L305 339.4 L305.6 338.5 L306.2 337.6 L306.8 336.8 L307.5 336 L308.2 335.2 L308.9 334.5 L309.7 333.8 L310.4 333.2 L311.2 332.6 L311.9 332.1 L312.7 331.6 L313.4 331.2 L314.2 330.9 L315 330.6 L315.7 330.3 L316.4 330.2 L317.1 330.1 L317.8 330 L318.5 330.1 L319.2 330.2 L319.8 330.3 L320.4 330.5 L320.9 330.8" fill="none" stroke="#222" stroke-width="0.9" stroke-linejoin="round" stroke-linecap="round" />
<path d="M305.1 361.1 L304.4 360.8 L303.8 360.5 L303.1 360.1 L302.6 359.6 L302.1 359 L301.6 358.4 L301.2 357.7 L300.9 357 L300.6 356.1 L300.4 355.3 L300.2 354.3 L300.1 353.4 L300.1 352.3 L300.1 351.3 L300.2 350.2 L300.4 349.1 L300.6 348 L300.9 346.8 L301.2 345.7 L301.6 344.5 L302.1 343.3 L302.6 342.2 L303.2 341.1 L303.8 340 L304.4 338.9 L305.1 337.8 L305.9 336.8 L306.6 335.8 L307.4 334.9 L308.3 334 L309.1 333.2 L310 332.5 L310.9 331.8 L311.8 331.1 L312.7 330.6 L313.6 330.1 L314.5 329.7 L315.3 329.4 L316.2 329.1 L317.1 328.9 L317.9 328.9 L318.7 328.9 L319.5 328.9 L320.2 329.1 L320.9 329.3 L321.6 329.7 L322.2 330.1 L322.7 330.5" fill="none" stroke="#555" stroke-width="0.8" stroke-linejoin="round" stroke-linecap="round" />
<path d="M344.3 382.4 L343.7 382 L343.3 381.6 L342.8 381.2 L342.4 380.7 L342.1 380.1 L341.7 379.5 L341.5 378.8 L341.2 378.1 L341.1 377.3 L341 376.5 L340.9 375.7 L340.9 374.8 L340.9 373.9 L341 373 L341.1 372.1 L341.2 371.1 L341.5 370.1 L341.7 369.2 L342.1 368.2 L342.4 367.2 L342.8 366.2 L343.3 365.2 L343.7 364.3 L344.3 363.3 L344.8 362.4 L345.4 361.5 L346 360.6 L346.7 359.8 L347.4 359 L348.1 358.2 L348.8 357.5 L349.5 356.8 L350.2 356.2 L351 355.6 L351.8 355.1 L352.5 354.6 L353.3 354.2 L354 353.9 L354.8 353.6 L355.5 353.3 L356.3 353.2 L357 353.1 L357.7 353 L358.4 353.1 L359 353.2 L359.6 353.3 L360.2 353.5 L360.8 353.8" fill="none" stroke="#000" stroke-width="1.5" stroke-linejoin="round" stroke-linecap="round" />
<path d="M357.4 376.7 L258.1 432.7 L258.1 447.4 L269.7 454.2 L371.7 396.9" fill="#fff" stroke="#000" stroke-width="1.5" stroke-linejoin="round" stroke-linecap="round" />
<path d="M388.8 370 L389.3 370.3 L389.8 370.6 L390.3 371 L390.8 371.4 L391.2 371.9 L391.6 372.4 L391.9 373 L392.2 373.6 L392.4 374.3 L392.6 375 L392.8 375.7 L392.9 376.5 L392.9 377.4 L392.9 378.2 L392.9 379.1 L392.8 380 L392.7 380.9 L392.5 381.8 L392.3 382.8 L392 383.7 L391.7 384.7 L391.4 385.7 L391 386.6 L390.5 387.6 L390.1 388.5 L389.6 389.4 L389 390.3 L388.4 391.2 L387.8 392 L387.2 392.9 L386.6 393.7 L385.9 394.4 L385.2 395.1 L384.5 395.8 L383.8 396.4 L383 397 L382.3 397.5 L381.6 398 L380.8 398.4 L380.1 398.8 L379.4 399.1 L378.6 399.3 L377.9 399.5 L377.2 399.7 L376.5 399.7 L375.8 399.8 L375.2 399.7 L374.6 399.6" fill="#fff" stroke="#000" stroke-width="1.5" stroke-linejoin="round" stroke-linecap="round" />
<path d="M258.1 432.7 L269.7 439.3 L369 383 L373.5 378 L380 372.5 L387.5 368.6" fill="none" stroke="#000" stroke-width="1.5" stroke-linejoin="round" stroke-linecap="round" />
<path d="M269.7 439.3 L269.7 454.2" fill="none" stroke="#000" stroke-width="1.5" stroke-linejoin="round" stroke-linecap="round" />
<path d="M271.4 440.6 L369.8 385 L374.5 380 L381 374.6 L388 371.2" fill="none" stroke="#000" stroke-width="0.8" stroke-linejoin="round" stroke-linecap="round" />
<path d="M271.2 440.6 L271.2 453.2" fill="none" stroke="#000" stroke-width="0.8" stroke-linejoin="round" stroke-linecap="round" />
<path d="M466.4 244.6 L700.5 378.3 C762.7 410.8 798.1 478.1 811.3 544.8 C811 549 806 552.5 799.5 555.3 C790 559 781 560 777 559.2 C773.5 558.3 772 556.5 771.4 554.6 C763.2 497.5 733.1 440.3 680 413.6 L446.4 280.2 L446.6 279.7 L446 279.3 L445.4 278.8 L444.8 278.2 L444.4 277.6 L443.9 276.9 L443.5 276.1 L443.2 275.3 L442.9 274.4 L442.7 273.5 L442.6 272.5 L442.5 271.5 L442.4 270.4 L442.5 269.3 L442.6 268.2 L442.7 267 L442.9 265.8 L443.2 264.6 L443.5 263.4 L443.9 262.2 L444.4 261 L444.8 259.8 L445.4 258.6 L446 257.4 L446.6 256.2 L447.3 255.1 L448 254 L448.8 252.9 L449.6 251.9 L450.4 250.9 L451.3 250 L452.2 249.1 L453.1 248.2 L454 247.5 L454.9 246.7 L455.8 246.1 L456.8 245.5 L457.7 245 L458.7 244.6 L459.6 244.2 L460.5 243.9 L461.4 243.7 L462.3 243.6 L463.1 243.6 L464 243.6 L464.8 243.7 L465.5 243.9 L466.2 244.2 L466.9 244.5 Z" fill="#fff" stroke="none" stroke-width="0" stroke-linejoin="round" stroke-linecap="round" />
<path d="M466.4 244.6 L700.5 378.3 C762.7 410.8 798.1 478.1 811.3 544.8 C811 549 806 552.5 799.5 555.3 C790 559 781 560 777 559.2 C773.5 558.3 772 556.5 771.4 554.6 C763.2 497.5 733.1 440.3 680 413.6 L446.4 280.2 " fill="none" stroke="#000" stroke-width="1.5" stroke-linejoin="round" stroke-linecap="round" />
<path d="M446.6 279.7 L446 279.3 L445.4 278.8 L444.8 278.2 L444.4 277.6 L443.9 276.9 L443.5 276.1 L443.2 275.3 L442.9 274.4 L442.7 273.5 L442.6 272.5 L442.5 271.5 L442.4 270.4 L442.5 269.3 L442.6 268.2 L442.7 267 L442.9 265.8 L443.2 264.6 L443.5 263.4 L443.9 262.2 L444.4 261 L444.8 259.8 L445.4 258.6 L446 257.4 L446.6 256.2 L447.3 255.1 L448 254 L448.8 252.9 L449.6 251.9 L450.4 250.9 L451.3 250 L452.2 249.1 L453.1 248.2 L454 247.5 L454.9 246.7 L455.8 246.1 L456.8 245.5 L457.7 245 L458.7 244.6 L459.6 244.2 L460.5 243.9 L461.4 243.7 L462.3 243.6 L463.1 243.6 L464 243.6 L464.8 243.7 L465.5 243.9 L466.2 244.2 L466.9 244.5" fill="none" stroke="#222" stroke-width="0.9" stroke-linejoin="round" stroke-linecap="round" />
<path d="M447.6 281.5 L446.7 281.2 L446 280.8 L445.2 280.3 L444.5 279.7 L443.9 279 L443.4 278.3 L442.9 277.4 L442.5 276.5 L442.1 275.5 L441.9 274.4 L441.7 273.3 L441.5 272.1 L441.5 270.9 L441.5 269.6 L441.7 268.3 L441.9 266.9 L442.1 265.6 L442.5 264.2 L442.9 262.8 L443.4 261.4 L443.9 260 L444.6 258.6 L445.2 257.2 L446 255.9 L446.8 254.5 L447.6 253.3 L448.5 252 L449.5 250.9 L450.4 249.7 L451.4 248.7 L452.5 247.7 L453.5 246.8 L454.6 245.9 L455.7 245.2 L456.8 244.5 L457.8 243.9 L458.9 243.4 L460 243 L461.1 242.7 L462.1 242.5 L463.1 242.4 L464.1 242.4 L465 242.5 L465.9 242.7 L466.8 243 L467.6 243.4 L468.3 243.9 L469 244.4" fill="none" stroke="#555" stroke-width="0.8" stroke-linejoin="round" stroke-linecap="round" />
<path d="M486.5 302.7 L485.8 302.3 L485.2 301.8 L484.7 301.2 L484.2 300.6 L483.7 299.9 L483.4 299.1 L483 298.3 L482.8 297.4 L482.5 296.5 L482.4 295.5 L482.3 294.5 L482.3 293.4 L482.3 292.3 L482.4 291.2 L482.5 290 L482.8 288.8 L483 287.6 L483.4 286.4 L483.7 285.2 L484.2 284 L484.7 282.8 L485.2 281.6 L485.8 280.4 L486.5 279.2 L487.2 278.1 L487.9 277 L488.6 275.9 L489.4 274.9 L490.3 273.9 L491.1 273 L492 272.1 L492.9 271.2 L493.8 270.5 L494.7 269.7 L495.7 269.1 L496.6 268.5 L497.6 268 L498.5 267.6 L499.4 267.2 L500.3 266.9 L501.2 266.7 L502.1 266.6 L503 266.6 L503.8 266.6 L504.6 266.7 L505.4 266.9 L506.1 267.2 L506.8 267.5" fill="none" stroke="#000" stroke-width="1.5" stroke-linejoin="round" stroke-linecap="round" />
<line x1="1.8" y1="220.9" x2="166.7" y2="126.2" stroke="#000" stroke-width="1.2" stroke-linecap="butt"/>
<line x1="219.5" y1="95.8" x2="384.7" y2="0.9" stroke="#000" stroke-width="1.2" stroke-linecap="butt"/>
<polygon points="1.8,220.9 16.5,206.3 21.8,215.5" fill="#000"/>
<polygon points="384.7,0.9 370,15.5 364.7,6.3" fill="#000"/>
<line x1="0" y1="219.9" x2="118.5" y2="287.6" stroke="#000" stroke-width="1.2" stroke-linecap="butt"/>
<line x1="384.7" y1="0.9" x2="494.4" y2="64.4" stroke="#000" stroke-width="1.2" stroke-linecap="butt"/>
<text x="193.5" y="122.2" font-size="32" text-anchor="middle">265</text>
<line x1="245" y1="141" x2="291" y2="115" stroke="#000" stroke-width="1.2" stroke-linecap="butt"/>
<line x1="344" y1="84" x2="389" y2="58" stroke="#000" stroke-width="1.2" stroke-linecap="butt"/>
<polygon points="245,141 259.7,126.4 265,135.6" fill="#000"/>
<polygon points="389,58 374.3,72.6 369,63.4" fill="#000"/>
<line x1="389" y1="58" x2="480.8" y2="110.2" stroke="#000" stroke-width="1.2" stroke-linecap="butt"/>
<line x1="245" y1="141" x2="323.8" y2="185.1" stroke="#000" stroke-width="1.2" stroke-linecap="butt"/>
<text x="318.3" y="110.1" font-size="31.8" text-anchor="middle">100</text>
<line x1="100.3" y1="223.1" x2="147.2" y2="197.3" stroke="#000" stroke-width="1.2" stroke-linecap="butt"/>
<line x1="200" y1="165.8" x2="245" y2="141" stroke="#000" stroke-width="1.2" stroke-linecap="butt"/>
<polygon points="100.3,223.1 115.1,208.6 120.3,217.8" fill="#000"/>
<polygon points="245,141 230.2,155.5 225,146.3" fill="#000"/>
<line x1="100.3" y1="223.1" x2="188" y2="273" stroke="#000" stroke-width="1.2" stroke-linecap="butt"/>
<text x="174.2" y="193" font-size="31.8" text-anchor="middle">100</text>
<text x="672.3" y="89.2" font-size="31.8" text-anchor="middle">&#216;57</text>
<line x1="641.5" y1="96.4" x2="701.6" y2="96.4" stroke="#000" stroke-width="1.2" stroke-linecap="butt"/>
<line x1="641.5" y1="96.4" x2="613.4" y2="119" stroke="#000" stroke-width="1.2" stroke-linecap="butt"/>
<polygon points="613.4,119 627.9,100.8 634.3,108.7" fill="#000"/>
<text x="329.6" y="273.2" font-size="31.8" text-anchor="middle">&#216;57</text>
<line x1="300" y1="280.4" x2="361.4" y2="280.4" stroke="#000" stroke-width="1.2" stroke-linecap="butt"/>
<line x1="361.4" y1="280.4" x2="406.5" y2="264.1" stroke="#000" stroke-width="1.2" stroke-linecap="butt"/>
<polygon points="406.5,264.1 385.6,277 382.2,267.6" fill="#000"/>
<text x="104.4" y="344" font-size="32.2" text-anchor="middle">G&#189;</text>
<line x1="79" y1="350.8" x2="130.7" y2="350.8" stroke="#000" stroke-width="1.2" stroke-linecap="butt"/>
<line x1="130.2" y1="350.8" x2="163.8" y2="334.4" stroke="#000" stroke-width="1.2" stroke-linecap="butt"/>
<polygon points="163.8,334.4 146.3,348.7 141.7,339.4" fill="#000"/>
<line x1="3" y1="345" x2="44" y2="367.5" stroke="#000" stroke-width="1.2" stroke-linecap="butt"/>
<line x1="105" y1="403.5" x2="146.3" y2="427.1" stroke="#000" stroke-width="1.2" stroke-linecap="butt"/>
<polygon points="3,345 23,350.3 17.7,359.5" fill="#000"/>
<polygon points="146.3,427.1 126.3,421.8 131.6,412.6" fill="#000"/>
<line x1="146.3" y1="427.1" x2="260" y2="363.5" stroke="#000" stroke-width="1.2" stroke-linecap="butt"/>
<line x1="2.5" y1="344.5" x2="110" y2="284" stroke="#000" stroke-width="1.2" stroke-linecap="butt"/>
<text x="74.8" y="395.6" font-size="31.8" text-anchor="middle">60-100</text>
<text x="516.5" y="401.4" font-size="31.8" text-anchor="middle">&#216;20</text>
<line x1="486.5" y1="408.4" x2="548.2" y2="408.4" stroke="#000" stroke-width="1.2" stroke-linecap="butt"/>
<line x1="547.7" y1="408.4" x2="598.6" y2="367.5" stroke="#000" stroke-width="1.2" stroke-linecap="butt"/>
<polygon points="598.6,367.5 583.8,386.1 577.3,378" fill="#000"/>
<line x1="445.7" y1="302.8" x2="445.7" y2="511.7" stroke="#000" stroke-width="1.2" stroke-linecap="butt"/>
<line x1="445.7" y1="511.7" x2="593.1" y2="595.3" stroke="#000" stroke-width="1.2" stroke-linecap="butt"/>
<line x1="645.5" y1="626" x2="792.1" y2="709" stroke="#000" stroke-width="1.2" stroke-linecap="butt"/>
<polygon points="445.7,511.7 465.7,517 460.5,526.2" fill="#000"/>
<polygon points="792.1,709 772.1,703.7 777.3,694.5" fill="#000"/>
<text x="618.6" y="621.3" font-size="31.8" text-anchor="middle">240</text>
<line x1="792.1" y1="569.5" x2="792.1" y2="712" stroke="#000" stroke-width="1.2" stroke-linecap="butt"/>
<line x1="797" y1="570.2" x2="820.4" y2="659.5" stroke="#000" stroke-width="1.2" stroke-linecap="butt"/>
<path d="M726.2 573.3 Q752 625 792.1 646.2 T838 662" fill="none" stroke="#000" stroke-width="1.2" stroke-linejoin="round" stroke-linecap="round" />
<polygon points="792.1,646.2 772.3,640.3 777.8,631.2" fill="#000"/>
<polygon points="820.4,658.3 839,655.8 837.4,666.3" fill="#000"/>
<text x="746.6" y="590.1" font-size="31.8" text-anchor="middle" transform="rotate(54 746.6 590.1)">20&#176;</text>
</svg>
</body></html>
